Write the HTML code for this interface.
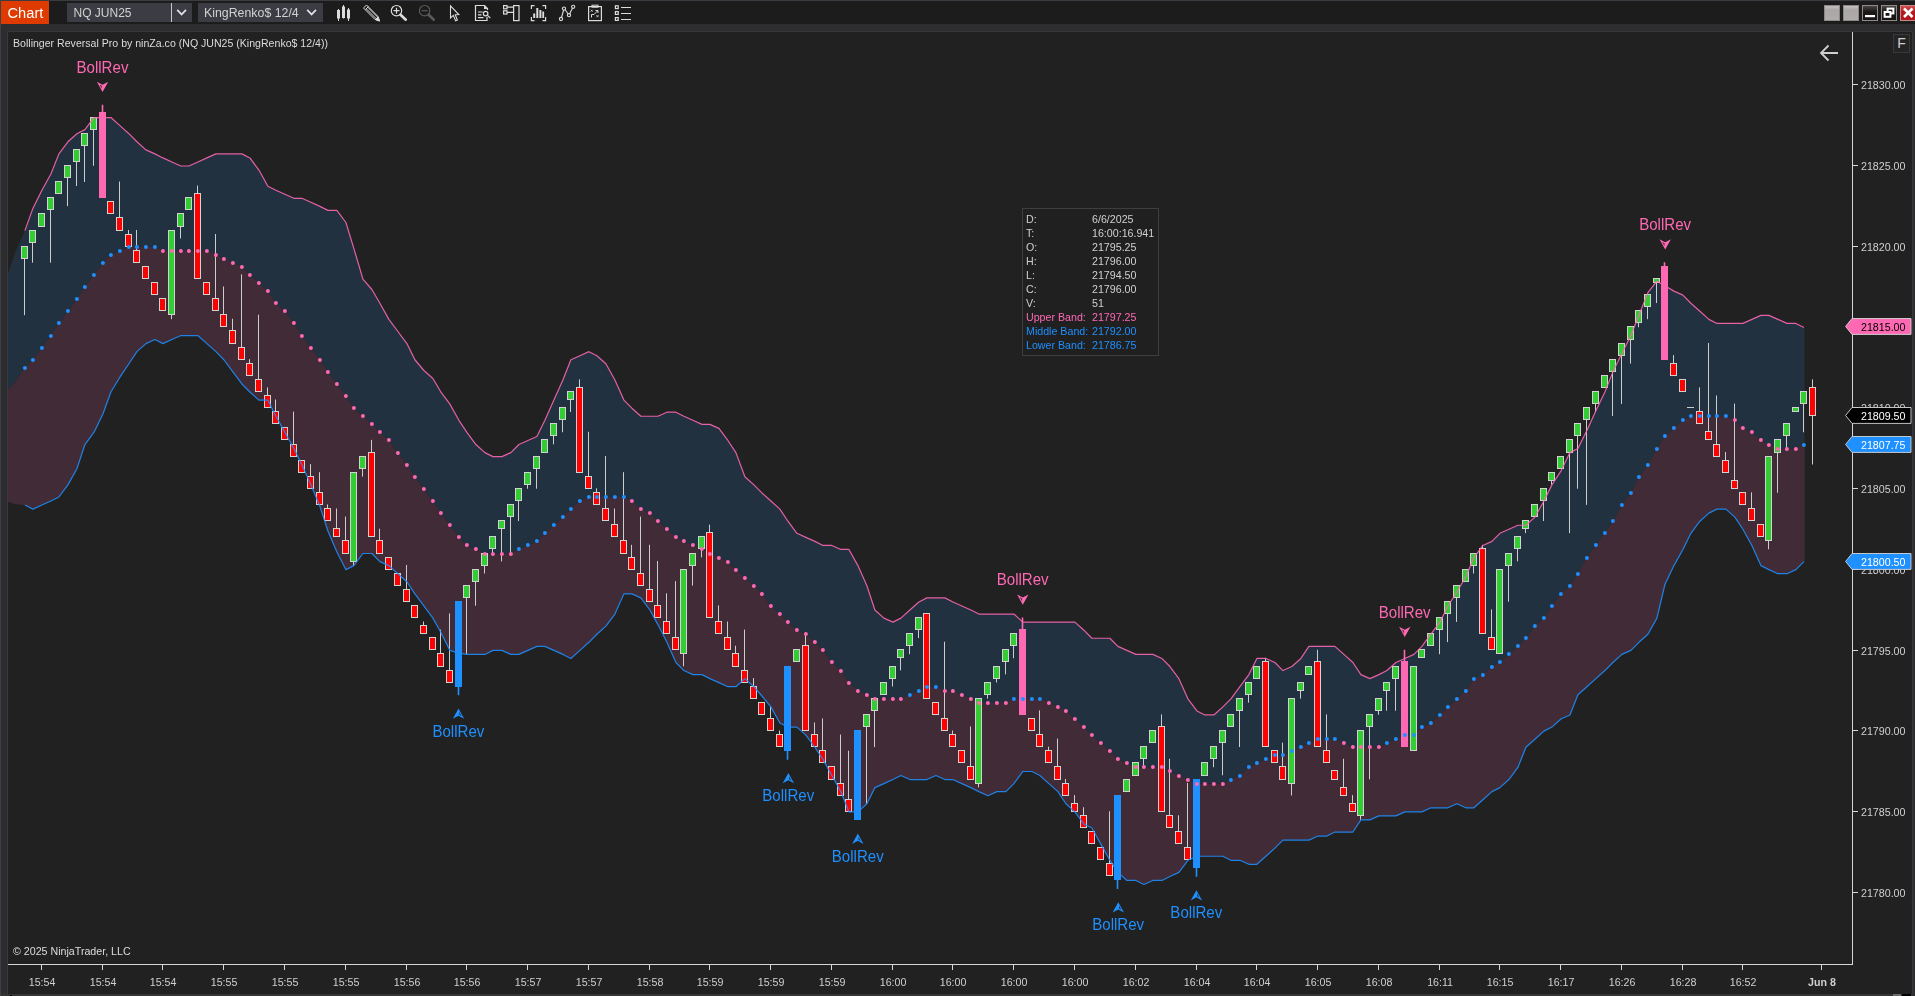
<!DOCTYPE html>
<html><head><meta charset="utf-8"><title>Chart</title>
<style>
html,body{margin:0;padding:0}
body{width:1915px;height:996px;overflow:hidden;background:#2d2d30;font-family:"Liberation Sans",sans-serif;position:relative}
#tb{position:absolute;left:0;top:0;width:1915px;height:24px;background:#1c1c1d;border-top:1px solid #3b3b41;box-sizing:border-box}
#lf{position:absolute;left:0;top:0;width:1px;height:996px;background:#3f3f46}
#tab{will-change:transform;position:absolute;left:1px;top:1px;width:48px;height:23px;background:#df3a00;color:#fff;font-size:14.67px;line-height:24px;text-indent:6.5px}
.box{will-change:transform;position:absolute;top:3px;height:19px;background:#3c3c44;color:#d2d2d2;font-size:12px;line-height:21.5px;white-space:nowrap}
#panel{position:absolute;left:8px;top:32px;width:1904px;height:961.5px;background:#212121}
#pb{position:absolute;left:7px;top:31px;width:1906px;height:963px;border:1px solid #38383c;box-sizing:border-box}
#bot{position:absolute;left:1px;top:993.5px;width:1911px;height:2.5px;background:#343434}
.wb{position:absolute;top:5px;width:16px;height:16px;box-sizing:border-box}
#fb{position:absolute;left:1893px;top:34px;width:17px;height:19px;box-sizing:border-box;border:1px solid #38383c;background:#242425;color:#d0d0d0;font-size:14px;line-height:17px;text-align:center}
</style></head><body>
<div id="tb"></div><div id="lf"></div>
<div id="tab">Chart</div>
<div class="box" style="left:67px;width:104px;text-indent:6.5px">NQ JUN25</div>
<div style="position:absolute;left:171px;top:3px;width:1px;height:19px;background:#c8c8c8"></div>
<div class="box" style="left:172px;width:20px"><svg width="20" height="19" style="position:absolute;left:0;top:0"><path d="M5.2 6.8 L9.6 11.4 L14 6.8" stroke="#e0e0e0" stroke-width="1.7" fill="none"/></svg></div>
<div class="box" style="left:198px;width:125px;text-indent:6px;font-size:12.35px">KingRenko$ 12/4<svg width="20" height="19" style="position:absolute;left:104px;top:0"><path d="M5.2 6.8 L9.6 11.4 L14 6.8" stroke="#e0e0e0" stroke-width="1.7" fill="none"/></svg></div>
<svg width="340" height="24" viewBox="330 0 340 24" style="position:absolute;left:330px;top:0"><g fill="#dcdcdc" stroke="#dcdcdc" stroke-width="1"><path d="M338.5 9 V21 M343.5 5 V18.5 M348.5 8 V21" fill="none"/><rect x="337" y="10" width="3" height="8.5" stroke="none"/><rect x="342" y="6.5" width="3" height="11.5" stroke="none"/><rect x="347" y="9.5" width="3" height="9" stroke="none"/></g><g stroke="#dcdcdc" fill="none" stroke-width="1"><path d="M364 7.5 L366.5 5 L378 16.5 L379.5 21 L375 19.5 L363.5 8 Z M365.5 9.5 L368.5 6.5 M366.5 9 L376.5 19 M368 7.5 L378 17.5" /><path d="M375.5 19.5 L379.5 21 L378 17 Z" fill="#dcdcdc"/></g><g stroke="#dcdcdc" fill="none"><circle cx="396.5" cy="10.7" r="5.2" stroke-width="1.2"/><path d="M393.5 10.7 H399.5 M396.5 7.7 V13.7" stroke-width="1.2"/><path d="M400.5 14.7 L405.8 19.7" stroke-width="2.6" stroke-linecap="round"/></g><g stroke="#5a5a5a" fill="none"><circle cx="424.6" cy="10.7" r="5.2" stroke-width="1.2"/><path d="M421.6 10.7 H427.6" stroke-width="1.2"/><path d="M428.6 14.7 L433.8 19.7" stroke-width="2.6" stroke-linecap="round"/></g><path d="M450.5 5.8 L450.5 18 L453.3 15.4 L455.6 20.8 L457.4 20 L455.2 14.8 L458.8 14.6 Z" fill="none" stroke="#dcdcdc" stroke-width="1.1" stroke-linejoin="miter"/><g stroke="#dcdcdc" fill="none" stroke-width="1.2"><path d="M487 17 V20.5 H475.5 V5.5 H484.5 L487.5 8.5 V10"/><path d="M484 5.5 V9 H487.5" fill="#dcdcdc" stroke="none"/><path d="M478 12 H482.5 M478 14.8 H481.5 M478 17.6 H483.5"/><circle cx="485.6" cy="13.6" r="2.3"/><path d="M487.4 15.4 L490.3 18"/></g><g stroke="#dcdcdc" fill="none" stroke-width="1.2"><rect x="503.6" y="5.6" width="3.4" height="3.2"/><rect x="503.6" y="10.8" width="3.4" height="3.2"/><path d="M507 7.2 H513.5 M507 12.4 H513.5"/><rect x="513.6" y="5.6" width="5.4" height="15"/></g><g stroke="#dcdcdc" fill="none" stroke-width="1.2"><path d="M534.5 5.6 H531.4 V9 M531.4 17 V20.6 H534.5 M542.5 5.6 H545.6 V9 M545.6 17 V20.6 H542.5"/></g><g fill="#dcdcdc"><rect x="533.2" y="13.5" width="2" height="4.5"/><rect x="536.3" y="8" width="2" height="10"/><rect x="539.4" y="10" width="2" height="8"/><rect x="542.3" y="11.5" width="1.8" height="6.5"/></g><g stroke="#dcdcdc" fill="none" stroke-width="1.1"><path d="M561.5 17.5 L563.6 10 M565 9.5 L568.2 14 M569.6 14 L572.5 8"/><circle cx="561" cy="19" r="1.6"/><circle cx="564" cy="8.6" r="1.6"/><circle cx="569" cy="15.2" r="1.6"/><circle cx="573.2" cy="6.8" r="1.6"/></g><g stroke="#dcdcdc" fill="none" stroke-width="1.2"><rect x="588.6" y="6.6" width="12.8" height="14"/><rect x="592" y="5.2" width="6" height="2" stroke-width="1"/><path d="M591.5 17.5 V14.5 H594 L597.5 11 M595.5 10.5 H598 V13" stroke-width="1"/><path d="M590.8 9.8 L592.6 11.6 M592.6 9.8 L590.8 11.6 M596.5 15.2 L598.5 17.2 M598.5 15.2 L596.5 17.2" stroke-width=".9"/></g><g stroke="#dcdcdc" fill="none" stroke-width="1.2"><rect x="615.4" y="5.8" width="2.8" height="2.8"/><rect x="615.4" y="11.6" width="2.8" height="2.8"/><rect x="615.4" y="17.6" width="2.8" height="2.8"/><path d="M621 7.5 H631 M621 13.5 H631 M621 19.5 H631" stroke-width="1"/></g></svg>
<div class="wb" style="left:1824px;background:linear-gradient(#c4c0c0,#aaa6a6 30%,#b0acac);border:1px solid #8c8888"></div>
<div class="wb" style="left:1843px;background:linear-gradient(#c4c0c0,#aaa6a6 30%,#b0acac);border:1px solid #8c8888"></div>
<div class="wb" style="left:1862px;background:linear-gradient(#4a4646,#1c1818 40%,#181414);border:1px solid #8e8a8a"><svg width="14" height="14" style="position:absolute;left:0;top:0"><rect x="2" y="9" width="10" height="2.2" fill="#fff"/></svg></div>
<div class="wb" style="left:1881px;background:linear-gradient(#4a4646,#1c1818 40%,#181414);border:1px solid #8e8a8a"><svg width="14" height="14" style="position:absolute;left:0;top:0"><rect x="5.6" y="2.6" width="5.8" height="4.8" fill="none" stroke="#fff" stroke-width="2"/><rect x="2.6" y="6" width="5.8" height="4.8" fill="#181414" stroke="#fff" stroke-width="2"/></svg></div>
<div class="wb" style="left:1900px;width:15px;background:linear-gradient(#d05050,#b41c22 40%,#b0181e);border:1px solid #c88;border-right:none"><svg width="14" height="14" style="position:absolute;left:0;top:0"><path d="M3 2.5 L11.5 11 M11.5 2.5 L3 11" stroke="#fff" stroke-width="2.6"/></svg></div>
<div id="pb"></div><div id="panel"></div>
<div id="bot"><div style="position:absolute;left:1892px;top:0;width:8px;height:3px;background:#6c6c6c"></div><div style="position:absolute;left:1901px;top:0;width:9px;height:3px;background:#000"></div><div style="position:absolute;left:9px;top:1px;width:2px;height:2px;background:#000"></div></div>
<div id="fb">F</div>
<svg width="1915" height="996" viewBox="0 0 1915 996" style="position:absolute;left:0;top:0;will-change:transform" font-family="Liberation Sans, sans-serif">
<defs><clipPath id="cp"><rect x="8" y="32" width="1844.5" height="932"/></clipPath></defs>
<g clip-path="url(#cp)">
<polygon points="8,274 15.34,252 24.9,230.58 32.9,208.4 41.9,190.21 50.9,174.06 58.9,153.88 67.9,141.77 76.9,133.7 84.9,129.66 93.9,117.55 102.9,117.55 110.9,117.55 119.9,125.63 128.9,133.7 136.9,141.77 145.9,149.85 154.9,153.88 162.9,157.92 171.9,161.95 180.9,165.99 188.9,165.99 197.9,161.95 206.9,157.92 215.9,153.88 223.9,153.88 232.9,153.88 241.9,153.88 249.9,157.92 258.9,170.03 267.9,186.17 275.9,190.21 284.9,194.25 293.9,198.28 301.9,198.28 310.9,202.32 319.9,206.36 327.9,210.39 336.9,210.39 345.9,222.5 353.9,248.6 362.9,279.02 371.9,289.5 379.9,303.24 388.9,319.38 397.9,331.49 406.9,343.6 414.9,359.75 423.9,370.5 432.9,378.5 440.9,392.04 449.9,404.15 458.9,420.3 466.9,432.41 475.9,444.52 484.9,452.59 492.9,456.62 501.9,456.62 510.9,452.59 518.9,444.52 527.9,440.48 536.9,436.44 544.9,420.3 553.9,400.11 562.9,379.93 570.9,359.75 579.9,355.71 588.9,351.67 596.9,355.71 605.9,363.78 614.9,379.93 623.9,400.11 631.9,408.19 640.9,416.26 649.9,416.26 657.9,416.26 666.9,412.22 675.9,412.22 683.9,416.26 692.9,420.3 701.9,424.33 709.9,424.33 718.9,428.37 727.9,440.48 735.9,452.59 744.9,476.81 753.9,484.88 761.9,492.95 770.9,501.03 779.9,509.1 787.9,521.21 796.9,533.32 805.9,537.36 814.9,541.39 822.9,545.43 831.9,545.43 840.9,549.47 848.9,549.47 857.9,565.61 866.9,585.8 874.9,610.01 883.9,618.09 892.9,622.12 900.9,618.09 909.9,610.01 918.9,601.94 926.9,597.91 935.9,597.91 944.9,597.91 952.9,601.94 961.9,605.98 970.9,610.01 978.9,614.05 987.9,614.05 996.9,614.05 1005.9,614.05 1013.9,614.05 1022.9,622.12 1031.9,622.12 1039.9,622.12 1048.9,622.12 1057.9,622.12 1065.9,622.12 1074.9,622.12 1083.9,630.2 1091.9,638.27 1100.9,638.27 1109.9,638.27 1117.9,646.34 1126.9,650.38 1135.9,654.42 1143.9,654.42 1152.9,654.42 1161.9,658.45 1169.9,666.53 1178.9,678.64 1187.9,698.82 1196.9,710.93 1204.9,714.97 1213.9,714.97 1222.9,706.89 1230.9,698.82 1239.9,686.71 1248.9,674.6 1256.9,658.45 1265.9,658.45 1274.9,662.49 1282.9,670.56 1291.9,666.53 1300.9,658.45 1308.9,646.34 1317.9,646.34 1326.9,646.34 1334.9,646.34 1343.9,654.42 1352.9,662.49 1360.9,674.6 1369.9,678.64 1378.9,674.6 1386.9,670.56 1395.9,662.49 1404.9,658.45 1413.9,654.42 1421.9,646.34 1430.9,634.23 1439.9,622.12 1447.9,605.98 1456.9,592 1465.9,576.5 1473.9,557.54 1482.9,545.43 1491.9,541.39 1499.9,533.32 1508.9,529.28 1517.9,525.25 1525.9,525.25 1534.9,517.17 1543.9,501.03 1551.9,484.88 1560.9,471.2 1569.9,452.59 1577.9,448.55 1586.9,430.5 1595.9,410.7 1604.9,392.04 1612.9,371.86 1621.9,353.5 1630.9,335.53 1638.9,315.34 1647.9,292.6 1656.9,281.2 1664.9,285.8 1673.9,291.13 1682.9,295.16 1690.9,303.24 1699.9,311.31 1708.9,319.38 1716.9,323.42 1725.9,323.42 1734.9,323.42 1742.9,323.42 1751.9,319.38 1760.9,315.34 1768.9,315.34 1777.9,319.38 1786.9,323.42 1795.9,323.42 1803.9,327.45 1804.61,327.45 1804.61,444.52 1803.9,444.52 1795.9,448.55 1786.9,448.55 1777.9,448.55 1768.9,444.52 1760.9,440.48 1751.9,432.41 1742.9,428.37 1734.9,420.3 1725.9,416.26 1716.9,416.26 1708.9,416.26 1699.9,416.26 1690.9,416.26 1682.9,420.3 1673.9,428.37 1664.9,436.44 1656.9,448.55 1647.9,464.7 1638.9,476.81 1630.9,492.95 1621.9,505.06 1612.9,521.21 1604.9,533.32 1595.9,545.43 1586.9,557.54 1577.9,573.69 1569.9,585.8 1560.9,593.87 1551.9,605.98 1543.9,618.09 1534.9,626.16 1525.9,638.27 1517.9,646.34 1508.9,654.42 1499.9,662.49 1491.9,666.53 1482.9,674.6 1473.9,678.64 1465.9,690.75 1456.9,698.82 1447.9,706.89 1439.9,714.97 1430.9,723.04 1421.9,727.08 1413.9,735.15 1404.9,735.15 1395.9,739.19 1386.9,743.22 1378.9,747.26 1369.9,747.26 1360.9,747.26 1352.9,747.26 1343.9,743.22 1334.9,739.19 1326.9,739.19 1317.9,739.19 1308.9,743.22 1300.9,747.26 1291.9,751.29 1282.9,755.33 1274.9,755.33 1265.9,759.37 1256.9,763.4 1248.9,767.44 1239.9,775.51 1230.9,779.55 1222.9,783.59 1213.9,783.59 1204.9,783.59 1196.9,783.59 1187.9,779.55 1178.9,775.51 1169.9,771.48 1161.9,767.44 1152.9,767.44 1143.9,767.44 1135.9,767.44 1126.9,763.4 1117.9,759.37 1109.9,751.29 1100.9,743.22 1091.9,735.15 1083.9,727.08 1074.9,719 1065.9,710.93 1057.9,706.89 1048.9,702.86 1039.9,698.82 1031.9,698.82 1022.9,698.82 1013.9,698.82 1005.9,702.86 996.9,702.86 987.9,702.86 978.9,702.86 970.9,698.82 961.9,694.78 952.9,690.75 944.9,690.75 935.9,686.71 926.9,686.71 918.9,690.75 909.9,694.78 900.9,698.82 892.9,698.82 883.9,698.82 874.9,698.82 866.9,694.78 857.9,690.75 848.9,682.67 840.9,670.56 831.9,662.49 822.9,650.38 814.9,642.31 805.9,634.23 796.9,630.2 787.9,622.12 779.9,614.05 770.9,605.98 761.9,593.87 753.9,585.8 744.9,577.72 735.9,569.65 727.9,561.58 718.9,557.54 709.9,553.5 701.9,549.47 692.9,545.43 683.9,541.39 675.9,537.36 666.9,529.28 657.9,521.21 649.9,513.14 640.9,509.1 631.9,501.03 623.9,496.99 614.9,496.99 605.9,496.99 596.9,496.99 588.9,496.99 579.9,501.03 570.9,509.1 562.9,517.17 553.9,525.25 544.9,533.32 536.9,541.39 527.9,545.43 518.9,549.47 510.9,553.5 501.9,553.5 492.9,553.5 484.9,553.5 475.9,549.47 466.9,545.43 458.9,537.36 449.9,525.25 440.9,513.14 432.9,501.03 423.9,488.92 414.9,476.81 406.9,464.7 397.9,452.59 388.9,440.48 379.9,432.41 371.9,424.33 362.9,416.26 353.9,408.19 345.9,396.08 336.9,383.97 327.9,371.86 319.9,359.75 310.9,347.64 301.9,335.53 293.9,323.42 284.9,311.31 275.9,303.24 267.9,291.13 258.9,283.05 249.9,274.98 241.9,266.91 232.9,262.87 223.9,258.83 215.9,254.8 206.9,250.76 197.9,250.76 188.9,250.76 180.9,250.76 171.9,250.76 162.9,250.76 154.9,246.72 145.9,246.72 136.9,246.72 128.9,246.72 119.9,250.76 110.9,254.8 102.9,262.87 93.9,274.98 84.9,287.09 76.9,299.2 67.9,311.31 58.9,323.42 50.9,335.53 41.9,347.64 32.9,359.75 24.9,367.82 15.34,381.8 8,389.2" fill="#223140"/>
<polygon points="8,389.2 15.34,381.8 24.9,367.82 32.9,359.75 41.9,347.64 50.9,335.53 58.9,323.42 67.9,311.31 76.9,299.2 84.9,287.09 93.9,274.98 102.9,262.87 110.9,254.8 119.9,250.76 128.9,246.72 136.9,246.72 145.9,246.72 154.9,246.72 162.9,250.76 171.9,250.76 180.9,250.76 188.9,250.76 197.9,250.76 206.9,250.76 215.9,254.8 223.9,258.83 232.9,262.87 241.9,266.91 249.9,274.98 258.9,283.05 267.9,291.13 275.9,303.24 284.9,311.31 293.9,323.42 301.9,335.53 310.9,347.64 319.9,359.75 327.9,371.86 336.9,383.97 345.9,396.08 353.9,408.19 362.9,416.26 371.9,424.33 379.9,432.41 388.9,440.48 397.9,452.59 406.9,464.7 414.9,476.81 423.9,488.92 432.9,501.03 440.9,513.14 449.9,525.25 458.9,537.36 466.9,545.43 475.9,549.47 484.9,553.5 492.9,553.5 501.9,553.5 510.9,553.5 518.9,549.47 527.9,545.43 536.9,541.39 544.9,533.32 553.9,525.25 562.9,517.17 570.9,509.1 579.9,501.03 588.9,496.99 596.9,496.99 605.9,496.99 614.9,496.99 623.9,496.99 631.9,501.03 640.9,509.1 649.9,513.14 657.9,521.21 666.9,529.28 675.9,537.36 683.9,541.39 692.9,545.43 701.9,549.47 709.9,553.5 718.9,557.54 727.9,561.58 735.9,569.65 744.9,577.72 753.9,585.8 761.9,593.87 770.9,605.98 779.9,614.05 787.9,622.12 796.9,630.2 805.9,634.23 814.9,642.31 822.9,650.38 831.9,662.49 840.9,670.56 848.9,682.67 857.9,690.75 866.9,694.78 874.9,698.82 883.9,698.82 892.9,698.82 900.9,698.82 909.9,694.78 918.9,690.75 926.9,686.71 935.9,686.71 944.9,690.75 952.9,690.75 961.9,694.78 970.9,698.82 978.9,702.86 987.9,702.86 996.9,702.86 1005.9,702.86 1013.9,698.82 1022.9,698.82 1031.9,698.82 1039.9,698.82 1048.9,702.86 1057.9,706.89 1065.9,710.93 1074.9,719 1083.9,727.08 1091.9,735.15 1100.9,743.22 1109.9,751.29 1117.9,759.37 1126.9,763.4 1135.9,767.44 1143.9,767.44 1152.9,767.44 1161.9,767.44 1169.9,771.48 1178.9,775.51 1187.9,779.55 1196.9,783.59 1204.9,783.59 1213.9,783.59 1222.9,783.59 1230.9,779.55 1239.9,775.51 1248.9,767.44 1256.9,763.4 1265.9,759.37 1274.9,755.33 1282.9,755.33 1291.9,751.29 1300.9,747.26 1308.9,743.22 1317.9,739.19 1326.9,739.19 1334.9,739.19 1343.9,743.22 1352.9,747.26 1360.9,747.26 1369.9,747.26 1378.9,747.26 1386.9,743.22 1395.9,739.19 1404.9,735.15 1413.9,735.15 1421.9,727.08 1430.9,723.04 1439.9,714.97 1447.9,706.89 1456.9,698.82 1465.9,690.75 1473.9,678.64 1482.9,674.6 1491.9,666.53 1499.9,662.49 1508.9,654.42 1517.9,646.34 1525.9,638.27 1534.9,626.16 1543.9,618.09 1551.9,605.98 1560.9,593.87 1569.9,585.8 1577.9,573.69 1586.9,557.54 1595.9,545.43 1604.9,533.32 1612.9,521.21 1621.9,505.06 1630.9,492.95 1638.9,476.81 1647.9,464.7 1656.9,448.55 1664.9,436.44 1673.9,428.37 1682.9,420.3 1690.9,416.26 1699.9,416.26 1708.9,416.26 1716.9,416.26 1725.9,416.26 1734.9,420.3 1742.9,428.37 1751.9,432.41 1760.9,440.48 1768.9,444.52 1777.9,448.55 1786.9,448.55 1795.9,448.55 1803.9,444.52 1804.61,444.52 1804.61,561.58 1803.9,561.58 1795.9,569.65 1786.9,573.69 1777.9,573.69 1768.9,569.65 1760.9,565.61 1751.9,545.43 1742.9,529.28 1734.9,517.17 1725.9,509.1 1716.9,509.1 1708.9,513.14 1699.9,521.21 1690.9,533.32 1682.9,549.47 1673.9,565.61 1664.9,584.5 1656.9,618.09 1647.9,634.23 1638.9,642.31 1630.9,650.38 1621.9,654.42 1612.9,662.49 1604.9,670.56 1595.9,678.64 1586.9,686.71 1577.9,694.78 1569.9,714.97 1560.9,719 1551.9,727.08 1543.9,731.11 1534.9,739.19 1525.9,747.26 1517.9,767.44 1508.9,779.55 1499.9,787.62 1491.9,791.66 1482.9,799.73 1473.9,807.81 1465.9,807.81 1456.9,803.77 1447.9,807.81 1439.9,807.81 1430.9,807.81 1421.9,811.84 1413.9,811.84 1404.9,811.84 1395.9,815.88 1386.9,815.88 1378.9,815.88 1369.9,819.92 1360.9,819.92 1352.9,832.03 1343.9,832.03 1334.9,832.03 1326.9,836.06 1317.9,836.06 1308.9,840.1 1300.9,840.1 1291.9,840.1 1282.9,840.1 1274.9,848.17 1265.9,856.25 1256.9,864.32 1248.9,864.32 1239.9,860.28 1230.9,860.28 1222.9,856.25 1213.9,856.25 1204.9,856.25 1196.9,856.25 1187.9,860.28 1178.9,872.39 1169.9,876.43 1161.9,880.47 1152.9,880.47 1143.9,884.5 1135.9,880.47 1126.9,880.47 1117.9,872.39 1109.9,860.28 1100.9,844.14 1091.9,827.99 1083.9,823.95 1074.9,811.84 1065.9,803.77 1057.9,791.66 1048.9,783.59 1039.9,775.51 1031.9,771.48 1022.9,771.48 1013.9,783.59 1005.9,791.66 996.9,791.66 987.9,795.7 978.9,791.66 970.9,787.62 961.9,783.59 952.9,779.55 944.9,779.55 935.9,775.51 926.9,779.55 918.9,779.55 909.9,779.55 900.9,775.51 892.9,779.55 883.9,783.59 874.9,787.62 866.9,803.77 857.9,811.84 848.9,811.84 840.9,791.66 831.9,775.51 822.9,759.37 814.9,747.26 805.9,735.15 796.9,727.08 787.9,727.08 779.9,723.04 770.9,706.89 761.9,696 753.9,686.71 744.9,678.64 735.9,686.71 727.9,686.71 718.9,682.67 709.9,678.64 701.9,674.6 692.9,674.6 683.9,670.56 675.9,662.49 666.9,642.31 657.9,624.6 649.9,610.01 640.9,597.91 631.9,593.87 623.9,593.87 614.9,614.05 605.9,626.16 596.9,634.23 588.9,642.31 579.9,650.38 570.9,658.45 562.9,654.42 553.9,650.38 544.9,646.34 536.9,646.34 527.9,650.38 518.9,654.42 510.9,654.42 501.9,650.38 492.9,650.38 484.9,654.42 475.9,654.42 466.9,654.42 458.9,653.2 449.9,650.38 440.9,632.5 432.9,618.09 423.9,605.98 414.9,593.87 406.9,581.76 397.9,573.69 388.9,565.61 379.9,561.58 371.9,553.5 362.9,553.5 353.9,565.61 345.9,569.65 336.9,552 327.9,531 319.9,506.3 310.9,484.88 301.9,464.7 293.9,448.55 284.9,432.41 275.9,416.26 267.9,400.11 258.9,400.11 249.9,392.04 241.9,383.97 232.9,371.86 223.9,359.75 215.9,351.67 206.9,343.6 197.9,335.53 188.9,335.53 180.9,335.53 171.9,339.56 162.9,343.6 154.9,339.56 145.9,343.6 136.9,351.67 128.9,363.78 119.9,377.2 110.9,392.04 102.9,414 93.9,432.41 84.9,444.52 76.9,468.73 67.9,484.88 58.9,496.99 50.9,501.03 41.9,505.06 32.9,509.1 24.9,505.06 15.34,504.3 8,501.7" fill="#412b37"/>
<g><path d="M24.5 259 V315.14" stroke="#cdcdcd" stroke-width="1"/><rect x="21.5" y="246.5" width="6" height="12" fill="#32cd32" stroke="#d2d2d2" stroke-width="1"/><path d="M32.5 243 V262.67" stroke="#cdcdcd" stroke-width="1"/><rect x="29.5" y="230.5" width="6" height="12" fill="#32cd32" stroke="#d2d2d2" stroke-width="1"/><rect x="38.5" y="213.5" width="6" height="13" fill="#32cd32" stroke="#d2d2d2" stroke-width="1"/><path d="M50.5 210 V262.67" stroke="#cdcdcd" stroke-width="1"/><rect x="47.5" y="197.5" width="6" height="12" fill="#32cd32" stroke="#d2d2d2" stroke-width="1"/><rect x="55.5" y="181.5" width="6" height="12" fill="#32cd32" stroke="#d2d2d2" stroke-width="1"/><path d="M67.5 178 V206.16" stroke="#cdcdcd" stroke-width="1"/><rect x="64.5" y="165.5" width="6" height="12" fill="#32cd32" stroke="#d2d2d2" stroke-width="1"/><path d="M76.5 162 V185.97" stroke="#cdcdcd" stroke-width="1"/><rect x="73.5" y="149.5" width="6" height="12" fill="#32cd32" stroke="#d2d2d2" stroke-width="1"/><path d="M84.5 146 V181.94" stroke="#cdcdcd" stroke-width="1"/><rect x="81.5" y="133.5" width="6" height="12" fill="#32cd32" stroke="#d2d2d2" stroke-width="1"/><path d="M93.5 130 V165.79" stroke="#cdcdcd" stroke-width="1"/><rect x="90.5" y="117.5" width="6" height="12" fill="#32cd32" stroke="#d2d2d2" stroke-width="1"/><path d="M102.5 104.84 V112" stroke="#ff69b4" stroke-width="1.6"/><rect x="99" y="112" width="7" height="86" fill="#ff69b4"/><rect x="107.5" y="201.5" width="6" height="12" fill="#ff0000" stroke="#d2d2d2" stroke-width="1"/><path d="M119.5 181.54 V217" stroke="#cdcdcd" stroke-width="1"/><rect x="116.5" y="217.5" width="6" height="13" fill="#ff0000" stroke="#d2d2d2" stroke-width="1"/><path d="M128.5 229.98 V234" stroke="#cdcdcd" stroke-width="1"/><rect x="125.5" y="234.5" width="6" height="12" fill="#ff0000" stroke="#d2d2d2" stroke-width="1"/><path d="M136.5 229.98 V250" stroke="#cdcdcd" stroke-width="1"/><rect x="133.5" y="250.5" width="6" height="12" fill="#ff0000" stroke="#d2d2d2" stroke-width="1"/><rect x="142.5" y="266.5" width="6" height="12" fill="#ff0000" stroke="#d2d2d2" stroke-width="1"/><rect x="151.5" y="282.5" width="6" height="12" fill="#ff0000" stroke="#d2d2d2" stroke-width="1"/><rect x="159.5" y="298.5" width="6" height="12" fill="#ff0000" stroke="#d2d2d2" stroke-width="1"/><path d="M171.5 315 V319.18" stroke="#cdcdcd" stroke-width="1"/><rect x="168.5" y="230.5" width="6" height="84" fill="#32cd32" stroke="#d2d2d2" stroke-width="1"/><path d="M180.5 227 V238.45" stroke="#cdcdcd" stroke-width="1"/><rect x="177.5" y="213.5" width="6" height="13" fill="#32cd32" stroke="#d2d2d2" stroke-width="1"/><rect x="185.5" y="197.5" width="6" height="12" fill="#32cd32" stroke="#d2d2d2" stroke-width="1"/><path d="M197.5 185.57 V193" stroke="#cdcdcd" stroke-width="1"/><rect x="194.5" y="193.5" width="6" height="85" fill="#ff0000" stroke="#d2d2d2" stroke-width="1"/><rect x="203.5" y="282.5" width="6" height="12" fill="#ff0000" stroke="#d2d2d2" stroke-width="1"/><path d="M215.5 234.01 V298" stroke="#cdcdcd" stroke-width="1"/><rect x="212.5" y="298.5" width="6" height="12" fill="#ff0000" stroke="#d2d2d2" stroke-width="1"/><path d="M223.5 286.49 V314" stroke="#cdcdcd" stroke-width="1"/><rect x="220.5" y="314.5" width="6" height="12" fill="#ff0000" stroke="#d2d2d2" stroke-width="1"/><path d="M232.5 318.78 V330" stroke="#cdcdcd" stroke-width="1"/><rect x="229.5" y="330.5" width="6" height="13" fill="#ff0000" stroke="#d2d2d2" stroke-width="1"/><path d="M241.5 274.38 V347" stroke="#cdcdcd" stroke-width="1"/><rect x="238.5" y="347.5" width="6" height="12" fill="#ff0000" stroke="#d2d2d2" stroke-width="1"/><path d="M249.5 359.15 V363" stroke="#cdcdcd" stroke-width="1"/><rect x="246.5" y="363.5" width="6" height="12" fill="#ff0000" stroke="#d2d2d2" stroke-width="1"/><path d="M258.5 314.74 V379" stroke="#cdcdcd" stroke-width="1"/><rect x="255.5" y="379.5" width="6" height="12" fill="#ff0000" stroke="#d2d2d2" stroke-width="1"/><path d="M267.5 387.4 V395" stroke="#cdcdcd" stroke-width="1"/><rect x="264.5" y="395.5" width="6" height="12" fill="#ff0000" stroke="#d2d2d2" stroke-width="1"/><path d="M275.5 399.51 V411" stroke="#cdcdcd" stroke-width="1"/><rect x="272.5" y="411.5" width="6" height="12" fill="#ff0000" stroke="#d2d2d2" stroke-width="1"/><rect x="281.5" y="427.5" width="6" height="12" fill="#ff0000" stroke="#d2d2d2" stroke-width="1"/><path d="M293.5 411.62 V444" stroke="#cdcdcd" stroke-width="1"/><rect x="290.5" y="444.5" width="6" height="12" fill="#ff0000" stroke="#d2d2d2" stroke-width="1"/><rect x="298.5" y="460.5" width="6" height="12" fill="#ff0000" stroke="#d2d2d2" stroke-width="1"/><path d="M310.5 464.1 V476" stroke="#cdcdcd" stroke-width="1"/><rect x="307.5" y="476.5" width="6" height="12" fill="#ff0000" stroke="#d2d2d2" stroke-width="1"/><path d="M319.5 472.17 V492" stroke="#cdcdcd" stroke-width="1"/><rect x="316.5" y="492.5" width="6" height="12" fill="#ff0000" stroke="#d2d2d2" stroke-width="1"/><path d="M327.5 504.46 V508" stroke="#cdcdcd" stroke-width="1"/><rect x="324.5" y="508.5" width="6" height="12" fill="#ff0000" stroke="#d2d2d2" stroke-width="1"/><path d="M336.5 508.5 V528" stroke="#cdcdcd" stroke-width="1"/><rect x="333.5" y="528.5" width="6" height="8" fill="#ff0000" stroke="#d2d2d2" stroke-width="1"/><path d="M345.5 516.57 V540" stroke="#cdcdcd" stroke-width="1"/><rect x="342.5" y="540.5" width="6" height="13" fill="#ff0000" stroke="#d2d2d2" stroke-width="1"/><path d="M353.5 562 V565.41" stroke="#cdcdcd" stroke-width="1"/><rect x="350.5" y="472.5" width="6" height="89" fill="#32cd32" stroke="#d2d2d2" stroke-width="1"/><path d="M362.5 469 V476.61" stroke="#cdcdcd" stroke-width="1"/><rect x="359.5" y="456.5" width="6" height="12" fill="#32cd32" stroke="#d2d2d2" stroke-width="1"/><path d="M371.5 439.88 V452" stroke="#cdcdcd" stroke-width="1"/><rect x="368.5" y="452.5" width="6" height="84" fill="#ff0000" stroke="#d2d2d2" stroke-width="1"/><path d="M379.5 528.68 V540" stroke="#cdcdcd" stroke-width="1"/><rect x="376.5" y="540.5" width="6" height="13" fill="#ff0000" stroke="#d2d2d2" stroke-width="1"/><rect x="385.5" y="557.5" width="6" height="12" fill="#ff0000" stroke="#d2d2d2" stroke-width="1"/><rect x="394.5" y="573.5" width="6" height="12" fill="#ff0000" stroke="#d2d2d2" stroke-width="1"/><path d="M406.5 565.01 V589" stroke="#cdcdcd" stroke-width="1"/><rect x="403.5" y="589.5" width="6" height="12" fill="#ff0000" stroke="#d2d2d2" stroke-width="1"/><rect x="411.5" y="605.5" width="6" height="12" fill="#ff0000" stroke="#d2d2d2" stroke-width="1"/><path d="M423.5 621.52 V625" stroke="#cdcdcd" stroke-width="1"/><rect x="420.5" y="625.5" width="6" height="8" fill="#ff0000" stroke="#d2d2d2" stroke-width="1"/><rect x="429.5" y="637.5" width="6" height="12" fill="#ff0000" stroke="#d2d2d2" stroke-width="1"/><path d="M440.5 629.6 V653" stroke="#cdcdcd" stroke-width="1"/><rect x="437.5" y="653.5" width="6" height="13" fill="#ff0000" stroke="#d2d2d2" stroke-width="1"/><path d="M449.5 613.45 V670" stroke="#cdcdcd" stroke-width="1"/><rect x="446.5" y="670.5" width="6" height="12" fill="#ff0000" stroke="#d2d2d2" stroke-width="1"/><path d="M458.5 686 V695.18" stroke="#1e90ff" stroke-width="1.6"/><rect x="455" y="601" width="7" height="86" fill="#1e90ff"/><path d="M466.5 598 V654.22" stroke="#cdcdcd" stroke-width="1"/><rect x="463.5" y="585.5" width="6" height="12" fill="#32cd32" stroke="#d2d2d2" stroke-width="1"/><path d="M475.5 582 V605.78" stroke="#cdcdcd" stroke-width="1"/><rect x="472.5" y="569.5" width="6" height="12" fill="#32cd32" stroke="#d2d2d2" stroke-width="1"/><path d="M484.5 566 V573.49" stroke="#cdcdcd" stroke-width="1"/><rect x="481.5" y="553.5" width="6" height="12" fill="#32cd32" stroke="#d2d2d2" stroke-width="1"/><path d="M492.5 549 V553.3" stroke="#cdcdcd" stroke-width="1"/><rect x="489.5" y="536.5" width="6" height="12" fill="#32cd32" stroke="#d2d2d2" stroke-width="1"/><path d="M501.5 529 V561.38" stroke="#cdcdcd" stroke-width="1"/><rect x="498.5" y="520.5" width="6" height="8" fill="#32cd32" stroke="#d2d2d2" stroke-width="1"/><path d="M510.5 517 V553.3" stroke="#cdcdcd" stroke-width="1"/><rect x="507.5" y="504.5" width="6" height="12" fill="#32cd32" stroke="#d2d2d2" stroke-width="1"/><path d="M518.5 501 V521.01" stroke="#cdcdcd" stroke-width="1"/><rect x="515.5" y="488.5" width="6" height="12" fill="#32cd32" stroke="#d2d2d2" stroke-width="1"/><path d="M527.5 485 V488.72" stroke="#cdcdcd" stroke-width="1"/><rect x="524.5" y="472.5" width="6" height="12" fill="#32cd32" stroke="#d2d2d2" stroke-width="1"/><path d="M536.5 469 V488.72" stroke="#cdcdcd" stroke-width="1"/><rect x="533.5" y="456.5" width="6" height="12" fill="#32cd32" stroke="#d2d2d2" stroke-width="1"/><rect x="541.5" y="439.5" width="6" height="13" fill="#32cd32" stroke="#d2d2d2" stroke-width="1"/><path d="M553.5 436 V444.32" stroke="#cdcdcd" stroke-width="1"/><rect x="550.5" y="423.5" width="6" height="12" fill="#32cd32" stroke="#d2d2d2" stroke-width="1"/><path d="M562.5 420 V432.21" stroke="#cdcdcd" stroke-width="1"/><rect x="559.5" y="407.5" width="6" height="12" fill="#32cd32" stroke="#d2d2d2" stroke-width="1"/><path d="M570.5 400 V412.02" stroke="#cdcdcd" stroke-width="1"/><rect x="567.5" y="391.5" width="6" height="8" fill="#32cd32" stroke="#d2d2d2" stroke-width="1"/><path d="M579.5 379.33 V387" stroke="#cdcdcd" stroke-width="1"/><rect x="576.5" y="387.5" width="6" height="85" fill="#ff0000" stroke="#d2d2d2" stroke-width="1"/><path d="M588.5 431.81 V476" stroke="#cdcdcd" stroke-width="1"/><rect x="585.5" y="476.5" width="6" height="12" fill="#ff0000" stroke="#d2d2d2" stroke-width="1"/><path d="M596.5 488.32 V492" stroke="#cdcdcd" stroke-width="1"/><rect x="593.5" y="492.5" width="6" height="12" fill="#ff0000" stroke="#d2d2d2" stroke-width="1"/><path d="M605.5 456.02 V508" stroke="#cdcdcd" stroke-width="1"/><rect x="602.5" y="508.5" width="6" height="12" fill="#ff0000" stroke="#d2d2d2" stroke-width="1"/><path d="M614.5 508.5 V524" stroke="#cdcdcd" stroke-width="1"/><rect x="611.5" y="524.5" width="6" height="12" fill="#ff0000" stroke="#d2d2d2" stroke-width="1"/><path d="M623.5 472.17 V540" stroke="#cdcdcd" stroke-width="1"/><rect x="620.5" y="540.5" width="6" height="13" fill="#ff0000" stroke="#d2d2d2" stroke-width="1"/><path d="M631.5 544.83 V557" stroke="#cdcdcd" stroke-width="1"/><rect x="628.5" y="557.5" width="6" height="12" fill="#ff0000" stroke="#d2d2d2" stroke-width="1"/><path d="M640.5 516.57 V573" stroke="#cdcdcd" stroke-width="1"/><rect x="637.5" y="573.5" width="6" height="12" fill="#ff0000" stroke="#d2d2d2" stroke-width="1"/><path d="M649.5 544.83 V589" stroke="#cdcdcd" stroke-width="1"/><rect x="646.5" y="589.5" width="6" height="12" fill="#ff0000" stroke="#d2d2d2" stroke-width="1"/><path d="M657.5 560.98 V605" stroke="#cdcdcd" stroke-width="1"/><rect x="654.5" y="605.5" width="6" height="12" fill="#ff0000" stroke="#d2d2d2" stroke-width="1"/><path d="M666.5 593.27 V621" stroke="#cdcdcd" stroke-width="1"/><rect x="663.5" y="621.5" width="6" height="12" fill="#ff0000" stroke="#d2d2d2" stroke-width="1"/><path d="M675.5 581.16 V637" stroke="#cdcdcd" stroke-width="1"/><rect x="672.5" y="637.5" width="6" height="12" fill="#ff0000" stroke="#d2d2d2" stroke-width="1"/><path d="M683.5 654 V666.33" stroke="#cdcdcd" stroke-width="1"/><rect x="680.5" y="569.5" width="6" height="84" fill="#32cd32" stroke="#d2d2d2" stroke-width="1"/><path d="M692.5 566 V585.6" stroke="#cdcdcd" stroke-width="1"/><rect x="689.5" y="553.5" width="6" height="12" fill="#32cd32" stroke="#d2d2d2" stroke-width="1"/><path d="M701.5 549 V557.34" stroke="#cdcdcd" stroke-width="1"/><rect x="698.5" y="536.5" width="6" height="12" fill="#32cd32" stroke="#d2d2d2" stroke-width="1"/><path d="M709.5 524.65 V532" stroke="#cdcdcd" stroke-width="1"/><rect x="706.5" y="532.5" width="6" height="85" fill="#ff0000" stroke="#d2d2d2" stroke-width="1"/><path d="M718.5 605.38 V621" stroke="#cdcdcd" stroke-width="1"/><rect x="715.5" y="621.5" width="6" height="12" fill="#ff0000" stroke="#d2d2d2" stroke-width="1"/><path d="M727.5 621.52 V637" stroke="#cdcdcd" stroke-width="1"/><rect x="724.5" y="637.5" width="6" height="12" fill="#ff0000" stroke="#d2d2d2" stroke-width="1"/><path d="M735.5 645.74 V653" stroke="#cdcdcd" stroke-width="1"/><rect x="732.5" y="653.5" width="6" height="13" fill="#ff0000" stroke="#d2d2d2" stroke-width="1"/><path d="M744.5 629.6 V670" stroke="#cdcdcd" stroke-width="1"/><rect x="741.5" y="670.5" width="6" height="12" fill="#ff0000" stroke="#d2d2d2" stroke-width="1"/><path d="M753.5 678.04 V686" stroke="#cdcdcd" stroke-width="1"/><rect x="750.5" y="686.5" width="6" height="12" fill="#ff0000" stroke="#d2d2d2" stroke-width="1"/><rect x="758.5" y="702.5" width="6" height="12" fill="#ff0000" stroke="#d2d2d2" stroke-width="1"/><path d="M770.5 706.29 V718" stroke="#cdcdcd" stroke-width="1"/><rect x="767.5" y="718.5" width="6" height="12" fill="#ff0000" stroke="#d2d2d2" stroke-width="1"/><path d="M779.5 730.51 V734" stroke="#cdcdcd" stroke-width="1"/><rect x="776.5" y="734.5" width="6" height="12" fill="#ff0000" stroke="#d2d2d2" stroke-width="1"/><path d="M787.5 750 V759.77" stroke="#1e90ff" stroke-width="1.6"/><rect x="784" y="666" width="7" height="85" fill="#1e90ff"/><rect x="793.5" y="649.5" width="6" height="12" fill="#32cd32" stroke="#d2d2d2" stroke-width="1"/><path d="M805.5 633.63 V645" stroke="#cdcdcd" stroke-width="1"/><rect x="802.5" y="645.5" width="6" height="85" fill="#ff0000" stroke="#d2d2d2" stroke-width="1"/><path d="M814.5 722.44 V734" stroke="#cdcdcd" stroke-width="1"/><rect x="811.5" y="734.5" width="6" height="12" fill="#ff0000" stroke="#d2d2d2" stroke-width="1"/><path d="M822.5 718.4 V750" stroke="#cdcdcd" stroke-width="1"/><rect x="819.5" y="750.5" width="6" height="12" fill="#ff0000" stroke="#d2d2d2" stroke-width="1"/><rect x="828.5" y="766.5" width="6" height="13" fill="#ff0000" stroke="#d2d2d2" stroke-width="1"/><path d="M840.5 734.55 V783" stroke="#cdcdcd" stroke-width="1"/><rect x="837.5" y="783.5" width="6" height="12" fill="#ff0000" stroke="#d2d2d2" stroke-width="1"/><path d="M848.5 750.69 V799" stroke="#cdcdcd" stroke-width="1"/><rect x="845.5" y="799.5" width="6" height="12" fill="#ff0000" stroke="#d2d2d2" stroke-width="1"/><rect x="854" y="730" width="7" height="90" fill="#1e90ff"/><path d="M866.5 727 V803.57" stroke="#cdcdcd" stroke-width="1"/><rect x="863.5" y="714.5" width="6" height="12" fill="#32cd32" stroke="#d2d2d2" stroke-width="1"/><path d="M874.5 711 V747.06" stroke="#cdcdcd" stroke-width="1"/><rect x="871.5" y="698.5" width="6" height="12" fill="#32cd32" stroke="#d2d2d2" stroke-width="1"/><rect x="880.5" y="682.5" width="6" height="12" fill="#32cd32" stroke="#d2d2d2" stroke-width="1"/><path d="M892.5 679 V686.51" stroke="#cdcdcd" stroke-width="1"/><rect x="889.5" y="666.5" width="6" height="12" fill="#32cd32" stroke="#d2d2d2" stroke-width="1"/><path d="M900.5 658 V670.36" stroke="#cdcdcd" stroke-width="1"/><rect x="897.5" y="649.5" width="6" height="8" fill="#32cd32" stroke="#d2d2d2" stroke-width="1"/><path d="M909.5 646 V654.22" stroke="#cdcdcd" stroke-width="1"/><rect x="906.5" y="633.5" width="6" height="12" fill="#32cd32" stroke="#d2d2d2" stroke-width="1"/><path d="M918.5 630 V638.07" stroke="#cdcdcd" stroke-width="1"/><rect x="915.5" y="617.5" width="6" height="12" fill="#32cd32" stroke="#d2d2d2" stroke-width="1"/><rect x="923.5" y="613.5" width="6" height="85" fill="#ff0000" stroke="#d2d2d2" stroke-width="1"/><rect x="932.5" y="702.5" width="6" height="12" fill="#ff0000" stroke="#d2d2d2" stroke-width="1"/><path d="M944.5 641.71 V718" stroke="#cdcdcd" stroke-width="1"/><rect x="941.5" y="718.5" width="6" height="12" fill="#ff0000" stroke="#d2d2d2" stroke-width="1"/><path d="M952.5 730.51 V734" stroke="#cdcdcd" stroke-width="1"/><rect x="949.5" y="734.5" width="6" height="12" fill="#ff0000" stroke="#d2d2d2" stroke-width="1"/><rect x="958.5" y="750.5" width="6" height="12" fill="#ff0000" stroke="#d2d2d2" stroke-width="1"/><path d="M970.5 726.48 V766" stroke="#cdcdcd" stroke-width="1"/><rect x="967.5" y="766.5" width="6" height="13" fill="#ff0000" stroke="#d2d2d2" stroke-width="1"/><path d="M978.5 784 V787.42" stroke="#cdcdcd" stroke-width="1"/><rect x="975.5" y="698.5" width="6" height="85" fill="#32cd32" stroke="#d2d2d2" stroke-width="1"/><path d="M987.5 695 V698.62" stroke="#cdcdcd" stroke-width="1"/><rect x="984.5" y="682.5" width="6" height="12" fill="#32cd32" stroke="#d2d2d2" stroke-width="1"/><path d="M996.5 679 V682.47" stroke="#cdcdcd" stroke-width="1"/><rect x="993.5" y="666.5" width="6" height="12" fill="#32cd32" stroke="#d2d2d2" stroke-width="1"/><path d="M1005.5 662 V674.4" stroke="#cdcdcd" stroke-width="1"/><rect x="1002.5" y="649.5" width="6" height="12" fill="#32cd32" stroke="#d2d2d2" stroke-width="1"/><path d="M1013.5 646 V658.25" stroke="#cdcdcd" stroke-width="1"/><rect x="1010.5" y="633.5" width="6" height="12" fill="#32cd32" stroke="#d2d2d2" stroke-width="1"/><path d="M1022.5 617.49 V629" stroke="#ff69b4" stroke-width="1.6"/><rect x="1019" y="629" width="7" height="86" fill="#ff69b4"/><rect x="1028.5" y="718.5" width="6" height="12" fill="#ff0000" stroke="#d2d2d2" stroke-width="1"/><path d="M1039.5 710.33 V734" stroke="#cdcdcd" stroke-width="1"/><rect x="1036.5" y="734.5" width="6" height="12" fill="#ff0000" stroke="#d2d2d2" stroke-width="1"/><path d="M1048.5 746.66 V750" stroke="#cdcdcd" stroke-width="1"/><rect x="1045.5" y="750.5" width="6" height="12" fill="#ff0000" stroke="#d2d2d2" stroke-width="1"/><path d="M1057.5 738.59 V766" stroke="#cdcdcd" stroke-width="1"/><rect x="1054.5" y="766.5" width="6" height="13" fill="#ff0000" stroke="#d2d2d2" stroke-width="1"/><path d="M1065.5 778.95 V783" stroke="#cdcdcd" stroke-width="1"/><rect x="1062.5" y="783.5" width="6" height="12" fill="#ff0000" stroke="#d2d2d2" stroke-width="1"/><path d="M1074.5 795.1 V803" stroke="#cdcdcd" stroke-width="1"/><rect x="1071.5" y="803.5" width="6" height="8" fill="#ff0000" stroke="#d2d2d2" stroke-width="1"/><path d="M1083.5 807.21 V815" stroke="#cdcdcd" stroke-width="1"/><rect x="1080.5" y="815.5" width="6" height="12" fill="#ff0000" stroke="#d2d2d2" stroke-width="1"/><rect x="1088.5" y="831.5" width="6" height="12" fill="#ff0000" stroke="#d2d2d2" stroke-width="1"/><rect x="1097.5" y="847.5" width="6" height="12" fill="#ff0000" stroke="#d2d2d2" stroke-width="1"/><path d="M1109.5 811.24 V863" stroke="#cdcdcd" stroke-width="1"/><rect x="1106.5" y="863.5" width="6" height="12" fill="#ff0000" stroke="#d2d2d2" stroke-width="1"/><path d="M1117.5 879 V888.94" stroke="#1e90ff" stroke-width="1.6"/><rect x="1114" y="795" width="7" height="85" fill="#1e90ff"/><rect x="1123.5" y="779.5" width="6" height="12" fill="#32cd32" stroke="#d2d2d2" stroke-width="1"/><rect x="1132.5" y="762.5" width="6" height="13" fill="#32cd32" stroke="#d2d2d2" stroke-width="1"/><path d="M1143.5 759 V767.24" stroke="#cdcdcd" stroke-width="1"/><rect x="1140.5" y="746.5" width="6" height="12" fill="#32cd32" stroke="#d2d2d2" stroke-width="1"/><rect x="1149.5" y="730.5" width="6" height="12" fill="#32cd32" stroke="#d2d2d2" stroke-width="1"/><path d="M1161.5 714.37 V726" stroke="#cdcdcd" stroke-width="1"/><rect x="1158.5" y="726.5" width="6" height="85" fill="#ff0000" stroke="#d2d2d2" stroke-width="1"/><path d="M1169.5 758.77 V815" stroke="#cdcdcd" stroke-width="1"/><rect x="1166.5" y="815.5" width="6" height="12" fill="#ff0000" stroke="#d2d2d2" stroke-width="1"/><path d="M1178.5 815.28 V831" stroke="#cdcdcd" stroke-width="1"/><rect x="1175.5" y="831.5" width="6" height="12" fill="#ff0000" stroke="#d2d2d2" stroke-width="1"/><path d="M1187.5 782.99 V847" stroke="#cdcdcd" stroke-width="1"/><rect x="1184.5" y="847.5" width="6" height="12" fill="#ff0000" stroke="#d2d2d2" stroke-width="1"/><path d="M1196.5 867 V876.83" stroke="#1e90ff" stroke-width="1.6"/><rect x="1193" y="779" width="7" height="89" fill="#1e90ff"/><rect x="1201.5" y="762.5" width="6" height="13" fill="#32cd32" stroke="#d2d2d2" stroke-width="1"/><path d="M1213.5 759 V767.24" stroke="#cdcdcd" stroke-width="1"/><rect x="1210.5" y="746.5" width="6" height="12" fill="#32cd32" stroke="#d2d2d2" stroke-width="1"/><path d="M1222.5 743 V775.31" stroke="#cdcdcd" stroke-width="1"/><rect x="1219.5" y="730.5" width="6" height="12" fill="#32cd32" stroke="#d2d2d2" stroke-width="1"/><rect x="1227.5" y="714.5" width="6" height="12" fill="#32cd32" stroke="#d2d2d2" stroke-width="1"/><path d="M1239.5 711 V747.06" stroke="#cdcdcd" stroke-width="1"/><rect x="1236.5" y="698.5" width="6" height="12" fill="#32cd32" stroke="#d2d2d2" stroke-width="1"/><path d="M1248.5 695 V702.66" stroke="#cdcdcd" stroke-width="1"/><rect x="1245.5" y="682.5" width="6" height="12" fill="#32cd32" stroke="#d2d2d2" stroke-width="1"/><rect x="1253.5" y="666.5" width="6" height="12" fill="#32cd32" stroke="#d2d2d2" stroke-width="1"/><path d="M1265.5 657.85 V661" stroke="#cdcdcd" stroke-width="1"/><rect x="1262.5" y="661.5" width="6" height="85" fill="#ff0000" stroke="#d2d2d2" stroke-width="1"/><rect x="1271.5" y="750.5" width="6" height="12" fill="#ff0000" stroke="#d2d2d2" stroke-width="1"/><path d="M1282.5 742.62 V766" stroke="#cdcdcd" stroke-width="1"/><rect x="1279.5" y="766.5" width="6" height="13" fill="#ff0000" stroke="#d2d2d2" stroke-width="1"/><path d="M1291.5 784 V795.5" stroke="#cdcdcd" stroke-width="1"/><rect x="1288.5" y="698.5" width="6" height="85" fill="#32cd32" stroke="#d2d2d2" stroke-width="1"/><path d="M1300.5 691 V698.62" stroke="#cdcdcd" stroke-width="1"/><rect x="1297.5" y="682.5" width="6" height="8" fill="#32cd32" stroke="#d2d2d2" stroke-width="1"/><rect x="1305.5" y="666.5" width="6" height="8" fill="#32cd32" stroke="#d2d2d2" stroke-width="1"/><path d="M1317.5 649.78 V661" stroke="#cdcdcd" stroke-width="1"/><rect x="1314.5" y="661.5" width="6" height="85" fill="#ff0000" stroke="#d2d2d2" stroke-width="1"/><path d="M1326.5 714.37 V750" stroke="#cdcdcd" stroke-width="1"/><rect x="1323.5" y="750.5" width="6" height="12" fill="#ff0000" stroke="#d2d2d2" stroke-width="1"/><rect x="1331.5" y="770.5" width="6" height="9" fill="#ff0000" stroke="#d2d2d2" stroke-width="1"/><path d="M1343.5 758.77 V787" stroke="#cdcdcd" stroke-width="1"/><rect x="1340.5" y="787.5" width="6" height="8" fill="#ff0000" stroke="#d2d2d2" stroke-width="1"/><path d="M1352.5 795.1 V803" stroke="#cdcdcd" stroke-width="1"/><rect x="1349.5" y="803.5" width="6" height="8" fill="#ff0000" stroke="#d2d2d2" stroke-width="1"/><path d="M1360.5 816 V819.72" stroke="#cdcdcd" stroke-width="1"/><rect x="1357.5" y="730.5" width="6" height="85" fill="#32cd32" stroke="#d2d2d2" stroke-width="1"/><path d="M1369.5 727 V779.35" stroke="#cdcdcd" stroke-width="1"/><rect x="1366.5" y="714.5" width="6" height="12" fill="#32cd32" stroke="#d2d2d2" stroke-width="1"/><path d="M1378.5 711 V714.77" stroke="#cdcdcd" stroke-width="1"/><rect x="1375.5" y="698.5" width="6" height="12" fill="#32cd32" stroke="#d2d2d2" stroke-width="1"/><path d="M1386.5 691 V710.73" stroke="#cdcdcd" stroke-width="1"/><rect x="1383.5" y="682.5" width="6" height="8" fill="#32cd32" stroke="#d2d2d2" stroke-width="1"/><path d="M1395.5 679 V710.73" stroke="#cdcdcd" stroke-width="1"/><rect x="1392.5" y="666.5" width="6" height="12" fill="#32cd32" stroke="#d2d2d2" stroke-width="1"/><path d="M1404.5 649.78 V661" stroke="#ff69b4" stroke-width="1.6"/><rect x="1401" y="661" width="7" height="86" fill="#ff69b4"/><rect x="1410.5" y="666.5" width="6" height="84" fill="#32cd32" stroke="#d2d2d2" stroke-width="1"/><rect x="1418.5" y="649.5" width="6" height="8" fill="#32cd32" stroke="#d2d2d2" stroke-width="1"/><rect x="1427.5" y="633.5" width="6" height="12" fill="#32cd32" stroke="#d2d2d2" stroke-width="1"/><path d="M1439.5 630 V654.22" stroke="#cdcdcd" stroke-width="1"/><rect x="1436.5" y="617.5" width="6" height="12" fill="#32cd32" stroke="#d2d2d2" stroke-width="1"/><path d="M1447.5 614 V642.11" stroke="#cdcdcd" stroke-width="1"/><rect x="1444.5" y="601.5" width="6" height="12" fill="#32cd32" stroke="#d2d2d2" stroke-width="1"/><path d="M1456.5 598 V621.92" stroke="#cdcdcd" stroke-width="1"/><rect x="1453.5" y="585.5" width="6" height="12" fill="#32cd32" stroke="#d2d2d2" stroke-width="1"/><rect x="1462.5" y="569.5" width="6" height="12" fill="#32cd32" stroke="#d2d2d2" stroke-width="1"/><path d="M1473.5 566 V573.49" stroke="#cdcdcd" stroke-width="1"/><rect x="1470.5" y="553.5" width="6" height="12" fill="#32cd32" stroke="#d2d2d2" stroke-width="1"/><path d="M1482.5 544.83 V548" stroke="#cdcdcd" stroke-width="1"/><rect x="1479.5" y="548.5" width="6" height="85" fill="#ff0000" stroke="#d2d2d2" stroke-width="1"/><path d="M1491.5 609.41 V637" stroke="#cdcdcd" stroke-width="1"/><rect x="1488.5" y="637.5" width="6" height="12" fill="#ff0000" stroke="#d2d2d2" stroke-width="1"/><rect x="1496.5" y="569.5" width="6" height="84" fill="#32cd32" stroke="#d2d2d2" stroke-width="1"/><path d="M1508.5 566 V601.74" stroke="#cdcdcd" stroke-width="1"/><rect x="1505.5" y="553.5" width="6" height="12" fill="#32cd32" stroke="#d2d2d2" stroke-width="1"/><path d="M1517.5 549 V561.38" stroke="#cdcdcd" stroke-width="1"/><rect x="1514.5" y="536.5" width="6" height="12" fill="#32cd32" stroke="#d2d2d2" stroke-width="1"/><path d="M1525.5 529 V533.12" stroke="#cdcdcd" stroke-width="1"/><rect x="1522.5" y="520.5" width="6" height="8" fill="#32cd32" stroke="#d2d2d2" stroke-width="1"/><rect x="1531.5" y="504.5" width="6" height="12" fill="#32cd32" stroke="#d2d2d2" stroke-width="1"/><path d="M1543.5 501 V521.01" stroke="#cdcdcd" stroke-width="1"/><rect x="1540.5" y="488.5" width="6" height="12" fill="#32cd32" stroke="#d2d2d2" stroke-width="1"/><path d="M1551.5 481 V484.68" stroke="#cdcdcd" stroke-width="1"/><rect x="1548.5" y="472.5" width="6" height="8" fill="#32cd32" stroke="#d2d2d2" stroke-width="1"/><rect x="1557.5" y="456.5" width="6" height="12" fill="#32cd32" stroke="#d2d2d2" stroke-width="1"/><path d="M1569.5 453 V533.12" stroke="#cdcdcd" stroke-width="1"/><rect x="1566.5" y="439.5" width="6" height="13" fill="#32cd32" stroke="#d2d2d2" stroke-width="1"/><path d="M1577.5 436 V488.72" stroke="#cdcdcd" stroke-width="1"/><rect x="1574.5" y="423.5" width="6" height="12" fill="#32cd32" stroke="#d2d2d2" stroke-width="1"/><path d="M1586.5 420 V504.86" stroke="#cdcdcd" stroke-width="1"/><rect x="1583.5" y="407.5" width="6" height="12" fill="#32cd32" stroke="#d2d2d2" stroke-width="1"/><path d="M1595.5 404 V412.02" stroke="#cdcdcd" stroke-width="1"/><rect x="1592.5" y="391.5" width="6" height="12" fill="#32cd32" stroke="#d2d2d2" stroke-width="1"/><rect x="1601.5" y="375.5" width="6" height="12" fill="#32cd32" stroke="#d2d2d2" stroke-width="1"/><path d="M1612.5 372 V416.06" stroke="#cdcdcd" stroke-width="1"/><rect x="1609.5" y="359.5" width="6" height="12" fill="#32cd32" stroke="#d2d2d2" stroke-width="1"/><path d="M1621.5 356 V403.95" stroke="#cdcdcd" stroke-width="1"/><rect x="1618.5" y="343.5" width="6" height="12" fill="#32cd32" stroke="#d2d2d2" stroke-width="1"/><path d="M1630.5 340 V363.58" stroke="#cdcdcd" stroke-width="1"/><rect x="1627.5" y="326.5" width="6" height="13" fill="#32cd32" stroke="#d2d2d2" stroke-width="1"/><path d="M1638.5 323 V327.25" stroke="#cdcdcd" stroke-width="1"/><rect x="1635.5" y="310.5" width="6" height="12" fill="#32cd32" stroke="#d2d2d2" stroke-width="1"/><path d="M1647.5 307 V319.18" stroke="#cdcdcd" stroke-width="1"/><rect x="1644.5" y="294.5" width="6" height="12" fill="#32cd32" stroke="#d2d2d2" stroke-width="1"/><path d="M1656.5 283 V303.04" stroke="#cdcdcd" stroke-width="1"/><rect x="1653.5" y="278.5" width="6" height="4" fill="#32cd32" stroke="#d2d2d2" stroke-width="1"/><path d="M1664.5 262.27 V266" stroke="#ff69b4" stroke-width="1.6"/><rect x="1661" y="266" width="7" height="94" fill="#ff69b4"/><path d="M1673.5 355.11 V363" stroke="#cdcdcd" stroke-width="1"/><rect x="1670.5" y="363.5" width="6" height="12" fill="#ff0000" stroke="#d2d2d2" stroke-width="1"/><rect x="1679.5" y="379.5" width="6" height="12" fill="#ff0000" stroke="#d2d2d2" stroke-width="1"/><path d="M1687 407.5 H1694" stroke="#cdcdcd" stroke-width="1"/><path d="M1699.5 387.4 V411" stroke="#cdcdcd" stroke-width="1"/><rect x="1696.5" y="411.5" width="6" height="12" fill="#ff0000" stroke="#d2d2d2" stroke-width="1"/><path d="M1708.5 343 V431" stroke="#cdcdcd" stroke-width="1"/><rect x="1705.5" y="431.5" width="6" height="8" fill="#ff0000" stroke="#d2d2d2" stroke-width="1"/><path d="M1716.5 395.48 V444" stroke="#cdcdcd" stroke-width="1"/><rect x="1713.5" y="444.5" width="6" height="12" fill="#ff0000" stroke="#d2d2d2" stroke-width="1"/><path d="M1725.5 451.99 V460" stroke="#cdcdcd" stroke-width="1"/><rect x="1722.5" y="460.5" width="6" height="12" fill="#ff0000" stroke="#d2d2d2" stroke-width="1"/><path d="M1734.5 403.55 V480" stroke="#cdcdcd" stroke-width="1"/><rect x="1731.5" y="480.5" width="6" height="8" fill="#ff0000" stroke="#d2d2d2" stroke-width="1"/><rect x="1739.5" y="492.5" width="6" height="12" fill="#ff0000" stroke="#d2d2d2" stroke-width="1"/><path d="M1751.5 492.35 V508" stroke="#cdcdcd" stroke-width="1"/><rect x="1748.5" y="508.5" width="6" height="12" fill="#ff0000" stroke="#d2d2d2" stroke-width="1"/><rect x="1757.5" y="524.5" width="6" height="12" fill="#ff0000" stroke="#d2d2d2" stroke-width="1"/><path d="M1768.5 541 V549.27" stroke="#cdcdcd" stroke-width="1"/><rect x="1765.5" y="456.5" width="6" height="84" fill="#32cd32" stroke="#d2d2d2" stroke-width="1"/><path d="M1777.5 453 V492.75" stroke="#cdcdcd" stroke-width="1"/><rect x="1774.5" y="439.5" width="6" height="13" fill="#32cd32" stroke="#d2d2d2" stroke-width="1"/><path d="M1786.5 436 V448.35" stroke="#cdcdcd" stroke-width="1"/><rect x="1783.5" y="423.5" width="6" height="12" fill="#32cd32" stroke="#d2d2d2" stroke-width="1"/><rect x="1792.5" y="407.5" width="6" height="4" fill="#32cd32" stroke="#d2d2d2" stroke-width="1"/><path d="M1803.5 404 V432.21" stroke="#cdcdcd" stroke-width="1"/><rect x="1800.5" y="391.5" width="6" height="12" fill="#32cd32" stroke="#d2d2d2" stroke-width="1"/><path d="M1812.5 379.33 V387" stroke="#cdcdcd" stroke-width="1"/><path d="M1812.5 416 V464.5" stroke="#cdcdcd" stroke-width="1"/><rect x="1809.5" y="387.5" width="6" height="28" fill="#ff0000" stroke="#d2d2d2" stroke-width="1"/></g>
<path d="M24.9 230.58 L32.9 208.4 L41.9 190.21 L50.9 174.06 L58.9 153.88 L67.9 141.77 L76.9 133.7 L84.9 129.66 L93.9 117.55 L102.9 117.55 L110.9 117.55 L119.9 125.63 L128.9 133.7 L136.9 141.77 L145.9 149.85 L154.9 153.88 L162.9 157.92 L171.9 161.95 L180.9 165.99 L188.9 165.99 L197.9 161.95 L206.9 157.92 L215.9 153.88 L223.9 153.88 L232.9 153.88 L241.9 153.88 L249.9 157.92 L258.9 170.03 L267.9 186.17 L275.9 190.21 L284.9 194.25 L293.9 198.28 L301.9 198.28 L310.9 202.32 L319.9 206.36 L327.9 210.39 L336.9 210.39 L345.9 222.5 L353.9 248.6 L362.9 279.02 L371.9 289.5 L379.9 303.24 L388.9 319.38 L397.9 331.49 L406.9 343.6 L414.9 359.75 L423.9 370.5 L432.9 378.5 L440.9 392.04 L449.9 404.15 L458.9 420.3 L466.9 432.41 L475.9 444.52 L484.9 452.59 L492.9 456.62 L501.9 456.62 L510.9 452.59 L518.9 444.52 L527.9 440.48 L536.9 436.44 L544.9 420.3 L553.9 400.11 L562.9 379.93 L570.9 359.75 L579.9 355.71 L588.9 351.67 L596.9 355.71 L605.9 363.78 L614.9 379.93 L623.9 400.11 L631.9 408.19 L640.9 416.26 L649.9 416.26 L657.9 416.26 L666.9 412.22 L675.9 412.22 L683.9 416.26 L692.9 420.3 L701.9 424.33 L709.9 424.33 L718.9 428.37 L727.9 440.48 L735.9 452.59 L744.9 476.81 L753.9 484.88 L761.9 492.95 L770.9 501.03 L779.9 509.1 L787.9 521.21 L796.9 533.32 L805.9 537.36 L814.9 541.39 L822.9 545.43 L831.9 545.43 L840.9 549.47 L848.9 549.47 L857.9 565.61 L866.9 585.8 L874.9 610.01 L883.9 618.09 L892.9 622.12 L900.9 618.09 L909.9 610.01 L918.9 601.94 L926.9 597.91 L935.9 597.91 L944.9 597.91 L952.9 601.94 L961.9 605.98 L970.9 610.01 L978.9 614.05 L987.9 614.05 L996.9 614.05 L1005.9 614.05 L1013.9 614.05 L1022.9 622.12 L1031.9 622.12 L1039.9 622.12 L1048.9 622.12 L1057.9 622.12 L1065.9 622.12 L1074.9 622.12 L1083.9 630.2 L1091.9 638.27 L1100.9 638.27 L1109.9 638.27 L1117.9 646.34 L1126.9 650.38 L1135.9 654.42 L1143.9 654.42 L1152.9 654.42 L1161.9 658.45 L1169.9 666.53 L1178.9 678.64 L1187.9 698.82 L1196.9 710.93 L1204.9 714.97 L1213.9 714.97 L1222.9 706.89 L1230.9 698.82 L1239.9 686.71 L1248.9 674.6 L1256.9 658.45 L1265.9 658.45 L1274.9 662.49 L1282.9 670.56 L1291.9 666.53 L1300.9 658.45 L1308.9 646.34 L1317.9 646.34 L1326.9 646.34 L1334.9 646.34 L1343.9 654.42 L1352.9 662.49 L1360.9 674.6 L1369.9 678.64 L1378.9 674.6 L1386.9 670.56 L1395.9 662.49 L1404.9 658.45 L1413.9 654.42 L1421.9 646.34 L1430.9 634.23 L1439.9 622.12 L1447.9 605.98 L1456.9 592 L1465.9 576.5 L1473.9 557.54 L1482.9 545.43 L1491.9 541.39 L1499.9 533.32 L1508.9 529.28 L1517.9 525.25 L1525.9 525.25 L1534.9 517.17 L1543.9 501.03 L1551.9 484.88 L1560.9 471.2 L1569.9 452.59 L1577.9 448.55 L1586.9 430.5 L1595.9 410.7 L1604.9 392.04 L1612.9 371.86 L1621.9 353.5 L1630.9 335.53 L1638.9 315.34 L1647.9 292.6 L1656.9 281.2 L1664.9 285.8 L1673.9 291.13 L1682.9 295.16 L1690.9 303.24 L1699.9 311.31 L1708.9 319.38 L1716.9 323.42 L1725.9 323.42 L1734.9 323.42 L1742.9 323.42 L1751.9 319.38 L1760.9 315.34 L1768.9 315.34 L1777.9 319.38 L1786.9 323.42 L1795.9 323.42 L1803.9 327.45" fill="none" stroke="#ff69b4" stroke-width="1.2" stroke-opacity=".88" stroke-linejoin="round"/>
<path d="M24.9 505.06 L32.9 509.1 L41.9 505.06 L50.9 501.03 L58.9 496.99 L67.9 484.88 L76.9 468.73 L84.9 444.52 L93.9 432.41 L102.9 414 L110.9 392.04 L119.9 377.2 L128.9 363.78 L136.9 351.67 L145.9 343.6 L154.9 339.56 L162.9 343.6 L171.9 339.56 L180.9 335.53 L188.9 335.53 L197.9 335.53 L206.9 343.6 L215.9 351.67 L223.9 359.75 L232.9 371.86 L241.9 383.97 L249.9 392.04 L258.9 400.11 L267.9 400.11 L275.9 416.26 L284.9 432.41 L293.9 448.55 L301.9 464.7 L310.9 484.88 L319.9 506.3 L327.9 531 L336.9 552 L345.9 569.65 L353.9 565.61 L362.9 553.5 L371.9 553.5 L379.9 561.58 L388.9 565.61 L397.9 573.69 L406.9 581.76 L414.9 593.87 L423.9 605.98 L432.9 618.09 L440.9 632.5 L449.9 650.38 L458.9 653.2 L466.9 654.42 L475.9 654.42 L484.9 654.42 L492.9 650.38 L501.9 650.38 L510.9 654.42 L518.9 654.42 L527.9 650.38 L536.9 646.34 L544.9 646.34 L553.9 650.38 L562.9 654.42 L570.9 658.45 L579.9 650.38 L588.9 642.31 L596.9 634.23 L605.9 626.16 L614.9 614.05 L623.9 593.87 L631.9 593.87 L640.9 597.91 L649.9 610.01 L657.9 624.6 L666.9 642.31 L675.9 662.49 L683.9 670.56 L692.9 674.6 L701.9 674.6 L709.9 678.64 L718.9 682.67 L727.9 686.71 L735.9 686.71 L744.9 678.64 L753.9 686.71 L761.9 696 L770.9 706.89 L779.9 723.04 L787.9 727.08 L796.9 727.08 L805.9 735.15 L814.9 747.26 L822.9 759.37 L831.9 775.51 L840.9 791.66 L848.9 811.84 L857.9 811.84 L866.9 803.77 L874.9 787.62 L883.9 783.59 L892.9 779.55 L900.9 775.51 L909.9 779.55 L918.9 779.55 L926.9 779.55 L935.9 775.51 L944.9 779.55 L952.9 779.55 L961.9 783.59 L970.9 787.62 L978.9 791.66 L987.9 795.7 L996.9 791.66 L1005.9 791.66 L1013.9 783.59 L1022.9 771.48 L1031.9 771.48 L1039.9 775.51 L1048.9 783.59 L1057.9 791.66 L1065.9 803.77 L1074.9 811.84 L1083.9 823.95 L1091.9 827.99 L1100.9 844.14 L1109.9 860.28 L1117.9 872.39 L1126.9 880.47 L1135.9 880.47 L1143.9 884.5 L1152.9 880.47 L1161.9 880.47 L1169.9 876.43 L1178.9 872.39 L1187.9 860.28 L1196.9 856.25 L1204.9 856.25 L1213.9 856.25 L1222.9 856.25 L1230.9 860.28 L1239.9 860.28 L1248.9 864.32 L1256.9 864.32 L1265.9 856.25 L1274.9 848.17 L1282.9 840.1 L1291.9 840.1 L1300.9 840.1 L1308.9 840.1 L1317.9 836.06 L1326.9 836.06 L1334.9 832.03 L1343.9 832.03 L1352.9 832.03 L1360.9 819.92 L1369.9 819.92 L1378.9 815.88 L1386.9 815.88 L1395.9 815.88 L1404.9 811.84 L1413.9 811.84 L1421.9 811.84 L1430.9 807.81 L1439.9 807.81 L1447.9 807.81 L1456.9 803.77 L1465.9 807.81 L1473.9 807.81 L1482.9 799.73 L1491.9 791.66 L1499.9 787.62 L1508.9 779.55 L1517.9 767.44 L1525.9 747.26 L1534.9 739.19 L1543.9 731.11 L1551.9 727.08 L1560.9 719 L1569.9 714.97 L1577.9 694.78 L1586.9 686.71 L1595.9 678.64 L1604.9 670.56 L1612.9 662.49 L1621.9 654.42 L1630.9 650.38 L1638.9 642.31 L1647.9 634.23 L1656.9 618.09 L1664.9 584.5 L1673.9 565.61 L1682.9 549.47 L1690.9 533.32 L1699.9 521.21 L1708.9 513.14 L1716.9 509.1 L1725.9 509.1 L1734.9 517.17 L1742.9 529.28 L1751.9 545.43 L1760.9 565.61 L1768.9 569.65 L1777.9 573.69 L1786.9 573.69 L1795.9 569.65 L1803.9 561.58" fill="none" stroke="#1e90ff" stroke-width="1.2" stroke-opacity=".88" stroke-linejoin="round"/>
<g fill="#ff69b4"><circle cx="162.9" cy="251" r="2"/><circle cx="171.9" cy="251" r="2"/><circle cx="180.9" cy="251" r="2"/><circle cx="188.9" cy="251" r="2"/><circle cx="197.9" cy="251" r="2"/><circle cx="206.9" cy="251" r="2"/><circle cx="215.9" cy="255" r="2"/><circle cx="223.9" cy="259" r="2"/><circle cx="232.9" cy="263" r="2"/><circle cx="241.9" cy="267" r="2"/><circle cx="249.9" cy="275" r="2"/><circle cx="258.9" cy="283" r="2"/><circle cx="267.9" cy="291" r="2"/><circle cx="275.9" cy="303" r="2"/><circle cx="284.9" cy="311" r="2"/><circle cx="293.9" cy="323" r="2"/><circle cx="301.9" cy="336" r="2"/><circle cx="310.9" cy="348" r="2"/><circle cx="319.9" cy="360" r="2"/><circle cx="327.9" cy="372" r="2"/><circle cx="336.9" cy="384" r="2"/><circle cx="345.9" cy="396" r="2"/><circle cx="353.9" cy="408" r="2"/><circle cx="362.9" cy="416" r="2"/><circle cx="371.9" cy="424" r="2"/><circle cx="379.9" cy="432" r="2"/><circle cx="388.9" cy="440" r="2"/><circle cx="397.9" cy="453" r="2"/><circle cx="406.9" cy="465" r="2"/><circle cx="414.9" cy="477" r="2"/><circle cx="423.9" cy="489" r="2"/><circle cx="432.9" cy="501" r="2"/><circle cx="440.9" cy="513" r="2"/><circle cx="449.9" cy="525" r="2"/><circle cx="458.9" cy="537" r="2"/><circle cx="466.9" cy="545" r="2"/><circle cx="475.9" cy="549" r="2"/><circle cx="484.9" cy="554" r="2"/><circle cx="492.9" cy="554" r="2"/><circle cx="501.9" cy="554" r="2"/><circle cx="510.9" cy="554" r="2"/><circle cx="631.9" cy="501" r="2"/><circle cx="640.9" cy="509" r="2"/><circle cx="649.9" cy="513" r="2"/><circle cx="657.9" cy="521" r="2"/><circle cx="666.9" cy="529" r="2"/><circle cx="675.9" cy="537" r="2"/><circle cx="683.9" cy="541" r="2"/><circle cx="692.9" cy="545" r="2"/><circle cx="701.9" cy="549" r="2"/><circle cx="709.9" cy="554" r="2"/><circle cx="718.9" cy="558" r="2"/><circle cx="727.9" cy="562" r="2"/><circle cx="735.9" cy="570" r="2"/><circle cx="744.9" cy="578" r="2"/><circle cx="753.9" cy="586" r="2"/><circle cx="761.9" cy="594" r="2"/><circle cx="770.9" cy="606" r="2"/><circle cx="779.9" cy="614" r="2"/><circle cx="787.9" cy="622" r="2"/><circle cx="796.9" cy="630" r="2"/><circle cx="805.9" cy="634" r="2"/><circle cx="814.9" cy="642" r="2"/><circle cx="822.9" cy="650" r="2"/><circle cx="831.9" cy="662" r="2"/><circle cx="840.9" cy="671" r="2"/><circle cx="848.9" cy="683" r="2"/><circle cx="857.9" cy="691" r="2"/><circle cx="866.9" cy="695" r="2"/><circle cx="874.9" cy="699" r="2"/><circle cx="883.9" cy="699" r="2"/><circle cx="892.9" cy="699" r="2"/><circle cx="900.9" cy="699" r="2"/><circle cx="944.9" cy="691" r="2"/><circle cx="952.9" cy="691" r="2"/><circle cx="961.9" cy="695" r="2"/><circle cx="970.9" cy="699" r="2"/><circle cx="978.9" cy="703" r="2"/><circle cx="987.9" cy="703" r="2"/><circle cx="996.9" cy="703" r="2"/><circle cx="1005.9" cy="703" r="2"/><circle cx="1048.9" cy="703" r="2"/><circle cx="1057.9" cy="707" r="2"/><circle cx="1065.9" cy="711" r="2"/><circle cx="1074.9" cy="719" r="2"/><circle cx="1083.9" cy="727" r="2"/><circle cx="1091.9" cy="735" r="2"/><circle cx="1100.9" cy="743" r="2"/><circle cx="1109.9" cy="751" r="2"/><circle cx="1117.9" cy="759" r="2"/><circle cx="1126.9" cy="763" r="2"/><circle cx="1135.9" cy="767" r="2"/><circle cx="1143.9" cy="767" r="2"/><circle cx="1152.9" cy="767" r="2"/><circle cx="1161.9" cy="767" r="2"/><circle cx="1169.9" cy="771" r="2"/><circle cx="1178.9" cy="776" r="2"/><circle cx="1187.9" cy="780" r="2"/><circle cx="1196.9" cy="784" r="2"/><circle cx="1204.9" cy="784" r="2"/><circle cx="1213.9" cy="784" r="2"/><circle cx="1222.9" cy="784" r="2"/><circle cx="1343.9" cy="743" r="2"/><circle cx="1352.9" cy="747" r="2"/><circle cx="1360.9" cy="747" r="2"/><circle cx="1369.9" cy="747" r="2"/><circle cx="1378.9" cy="747" r="2"/><circle cx="1734.9" cy="420" r="2"/><circle cx="1742.9" cy="428" r="2"/><circle cx="1751.9" cy="432" r="2"/><circle cx="1760.9" cy="440" r="2"/><circle cx="1768.9" cy="445" r="2"/><circle cx="1777.9" cy="449" r="2"/><circle cx="1786.9" cy="449" r="2"/><circle cx="1795.9" cy="449" r="2"/></g>
<g fill="#1e90ff"><circle cx="24.9" cy="368" r="2"/><circle cx="32.9" cy="360" r="2"/><circle cx="41.9" cy="348" r="2"/><circle cx="50.9" cy="336" r="2"/><circle cx="58.9" cy="323" r="2"/><circle cx="67.9" cy="311" r="2"/><circle cx="76.9" cy="299" r="2"/><circle cx="84.9" cy="287" r="2"/><circle cx="93.9" cy="275" r="2"/><circle cx="102.9" cy="263" r="2"/><circle cx="110.9" cy="255" r="2"/><circle cx="119.9" cy="251" r="2"/><circle cx="128.9" cy="247" r="2"/><circle cx="136.9" cy="247" r="2"/><circle cx="145.9" cy="247" r="2"/><circle cx="154.9" cy="247" r="2"/><circle cx="518.9" cy="549" r="2"/><circle cx="527.9" cy="545" r="2"/><circle cx="536.9" cy="541" r="2"/><circle cx="544.9" cy="533" r="2"/><circle cx="553.9" cy="525" r="2"/><circle cx="562.9" cy="517" r="2"/><circle cx="570.9" cy="509" r="2"/><circle cx="579.9" cy="501" r="2"/><circle cx="588.9" cy="497" r="2"/><circle cx="596.9" cy="497" r="2"/><circle cx="605.9" cy="497" r="2"/><circle cx="614.9" cy="497" r="2"/><circle cx="623.9" cy="497" r="2"/><circle cx="909.9" cy="695" r="2"/><circle cx="918.9" cy="691" r="2"/><circle cx="926.9" cy="687" r="2"/><circle cx="935.9" cy="687" r="2"/><circle cx="1013.9" cy="699" r="2"/><circle cx="1022.9" cy="699" r="2"/><circle cx="1031.9" cy="699" r="2"/><circle cx="1039.9" cy="699" r="2"/><circle cx="1230.9" cy="780" r="2"/><circle cx="1239.9" cy="776" r="2"/><circle cx="1248.9" cy="767" r="2"/><circle cx="1256.9" cy="763" r="2"/><circle cx="1265.9" cy="759" r="2"/><circle cx="1274.9" cy="755" r="2"/><circle cx="1282.9" cy="755" r="2"/><circle cx="1291.9" cy="751" r="2"/><circle cx="1300.9" cy="747" r="2"/><circle cx="1308.9" cy="743" r="2"/><circle cx="1317.9" cy="739" r="2"/><circle cx="1326.9" cy="739" r="2"/><circle cx="1334.9" cy="739" r="2"/><circle cx="1386.9" cy="743" r="2"/><circle cx="1395.9" cy="739" r="2"/><circle cx="1404.9" cy="735" r="2"/><circle cx="1413.9" cy="735" r="2"/><circle cx="1421.9" cy="727" r="2"/><circle cx="1430.9" cy="723" r="2"/><circle cx="1439.9" cy="715" r="2"/><circle cx="1447.9" cy="707" r="2"/><circle cx="1456.9" cy="699" r="2"/><circle cx="1465.9" cy="691" r="2"/><circle cx="1473.9" cy="679" r="2"/><circle cx="1482.9" cy="675" r="2"/><circle cx="1491.9" cy="667" r="2"/><circle cx="1499.9" cy="662" r="2"/><circle cx="1508.9" cy="654" r="2"/><circle cx="1517.9" cy="646" r="2"/><circle cx="1525.9" cy="638" r="2"/><circle cx="1534.9" cy="626" r="2"/><circle cx="1543.9" cy="618" r="2"/><circle cx="1551.9" cy="606" r="2"/><circle cx="1560.9" cy="594" r="2"/><circle cx="1569.9" cy="586" r="2"/><circle cx="1577.9" cy="574" r="2"/><circle cx="1586.9" cy="558" r="2"/><circle cx="1595.9" cy="545" r="2"/><circle cx="1604.9" cy="533" r="2"/><circle cx="1612.9" cy="521" r="2"/><circle cx="1621.9" cy="505" r="2"/><circle cx="1630.9" cy="493" r="2"/><circle cx="1638.9" cy="477" r="2"/><circle cx="1647.9" cy="465" r="2"/><circle cx="1656.9" cy="449" r="2"/><circle cx="1664.9" cy="436" r="2"/><circle cx="1673.9" cy="428" r="2"/><circle cx="1682.9" cy="420" r="2"/><circle cx="1690.9" cy="416" r="2"/><circle cx="1699.9" cy="416" r="2"/><circle cx="1708.9" cy="416" r="2"/><circle cx="1716.9" cy="416" r="2"/><circle cx="1725.9" cy="416" r="2"/><circle cx="1803.9" cy="445" r="2"/></g>
<path d="M102.55 92.04 L108.25 81.74 L102.55 84.84 L96.85 81.74 Z" fill="#ff69b4"/><path d="M101.85 88.84 L99.45 84.44 L101.85 85.84 Z" fill="#212121" fill-opacity=".8"/>
<text transform="translate(102.45 72.84) scale(1.005 1.07)" font-size="15" fill="#ff69b4" text-anchor="middle">BollRev</text>
<path d="M458.49 708.48 L452.79 718.78 L458.49 715.68 L464.19 718.78 Z" fill="#1e90ff"/><path d="M459.19 711.68 L461.59 716.08 L459.19 714.68 Z" fill="#212121" fill-opacity=".8"/>
<text transform="translate(458.39 736.58) scale(1.005 1.07)" font-size="15" fill="#1e90ff" text-anchor="middle">BollRev</text>
<path d="M788.38 773.07 L782.68 783.37 L788.38 780.27 L794.08 783.37 Z" fill="#1e90ff"/><path d="M789.08 776.27 L791.48 780.67 L789.08 779.27 Z" fill="#212121" fill-opacity=".8"/>
<text transform="translate(788.28 801.17) scale(1.005 1.07)" font-size="15" fill="#1e90ff" text-anchor="middle">BollRev</text>
<path d="M857.83 833.62 L852.13 843.92 L857.83 840.82 L863.53 843.92 Z" fill="#1e90ff"/><path d="M858.53 836.82 L860.93 841.22 L858.53 839.82 Z" fill="#212121" fill-opacity=".8"/>
<text transform="translate(857.73 861.72) scale(1.005 1.07)" font-size="15" fill="#1e90ff" text-anchor="middle">BollRev</text>
<path d="M1022.78 604.69 L1028.48 594.39 L1022.78 597.49 L1017.08 594.39 Z" fill="#ff69b4"/><path d="M1022.08 601.49 L1019.68 597.09 L1022.08 598.49 Z" fill="#212121" fill-opacity=".8"/>
<text transform="translate(1022.68 585.49) scale(1.005 1.07)" font-size="15" fill="#ff69b4" text-anchor="middle">BollRev</text>
<path d="M1118.28 902.24 L1112.58 912.54 L1118.28 909.44 L1123.98 912.54 Z" fill="#1e90ff"/><path d="M1118.98 905.44 L1121.38 909.84 L1118.98 908.44 Z" fill="#212121" fill-opacity=".8"/>
<text transform="translate(1118.18 930.34) scale(1.005 1.07)" font-size="15" fill="#1e90ff" text-anchor="middle">BollRev</text>
<path d="M1196.41 890.13 L1190.71 900.43 L1196.41 897.33 L1202.11 900.43 Z" fill="#1e90ff"/><path d="M1197.11 893.33 L1199.51 897.73 L1197.11 896.33 Z" fill="#212121" fill-opacity=".8"/>
<text transform="translate(1196.31 918.23) scale(1.005 1.07)" font-size="15" fill="#1e90ff" text-anchor="middle">BollRev</text>
<path d="M1404.76 636.98 L1410.46 626.68 L1404.76 629.78 L1399.06 626.68 Z" fill="#ff69b4"/><path d="M1404.06 633.78 L1401.66 629.38 L1404.06 630.78 Z" fill="#212121" fill-opacity=".8"/>
<text transform="translate(1404.66 617.78) scale(1.005 1.07)" font-size="15" fill="#ff69b4" text-anchor="middle">BollRev</text>
<path d="M1665.2 249.47 L1670.9 239.17 L1665.2 242.27 L1659.5 239.17 Z" fill="#ff69b4"/><path d="M1664.5 246.27 L1662.1 241.87 L1664.5 243.27 Z" fill="#212121" fill-opacity=".8"/>
<text transform="translate(1665.1 230.27) scale(1.005 1.07)" font-size="15" fill="#ff69b4" text-anchor="middle">BollRev</text>
</g>
<path d="M1852.5 32 V964.5 M8 964.5 H1853" stroke="#d6d6d6" stroke-width="1" fill="none"/>
<path d="M1853 84.5 H1858 M1853 165.5 H1858 M1853 246.5 H1858 M1853 326.5 H1858 M1853 407.5 H1858 M1853 488.5 H1858 M1853 569.5 H1858 M1853 650.5 H1858 M1853 730.5 H1858 M1853 811.5 H1858 M1853 892.5 H1858 M41.5 965 V970 M102.5 965 V970 M162.5 965 V970 M223.5 965 V970 M284.5 965 V970 M345.5 965 V970 M406.5 965 V970 M466.5 965 V970 M527.5 965 V970 M588.5 965 V970 M649.5 965 V970 M709.5 965 V970 M770.5 965 V970 M831.5 965 V970 M892.5 965 V970 M952.5 965 V970 M1013.5 965 V970 M1074.5 965 V970 M1135.5 965 V970 M1196.5 965 V970 M1256.5 965 V970 M1317.5 965 V970 M1378.5 965 V970 M1439.5 965 V970 M1499.5 965 V970 M1560.5 965 V970 M1621.5 965 V970 M1682.5 965 V970 M1742.5 965 V970 M1821.5 965 V970" stroke="#d6d6d6" stroke-width="1" fill="none"/>
<g font-size="10.67" fill="#cfcfcf"><text x="1861" y="89">21830.00</text><text x="1861" y="170">21825.00</text><text x="1861" y="251">21820.00</text><text x="1861" y="331">21815.00</text><text x="1861" y="412">21810.00</text><text x="1861" y="493">21805.00</text><text x="1861" y="574">21800.00</text><text x="1861" y="655">21795.00</text><text x="1861" y="735">21790.00</text><text x="1861" y="816">21785.00</text><text x="1861" y="897">21780.00</text><text x="42.1" y="986" text-anchor="middle">15:54</text><text x="103.1" y="986" text-anchor="middle">15:54</text><text x="163.1" y="986" text-anchor="middle">15:54</text><text x="224.1" y="986" text-anchor="middle">15:55</text><text x="285.1" y="986" text-anchor="middle">15:55</text><text x="346.1" y="986" text-anchor="middle">15:55</text><text x="407.1" y="986" text-anchor="middle">15:56</text><text x="467.1" y="986" text-anchor="middle">15:56</text><text x="528.1" y="986" text-anchor="middle">15:57</text><text x="589.1" y="986" text-anchor="middle">15:57</text><text x="650.1" y="986" text-anchor="middle">15:58</text><text x="710.1" y="986" text-anchor="middle">15:59</text><text x="771.1" y="986" text-anchor="middle">15:59</text><text x="832.1" y="986" text-anchor="middle">15:59</text><text x="893.1" y="986" text-anchor="middle">16:00</text><text x="953.1" y="986" text-anchor="middle">16:00</text><text x="1014.1" y="986" text-anchor="middle">16:00</text><text x="1075.1" y="986" text-anchor="middle">16:00</text><text x="1136.1" y="986" text-anchor="middle">16:02</text><text x="1197.1" y="986" text-anchor="middle">16:04</text><text x="1257.1" y="986" text-anchor="middle">16:04</text><text x="1318.1" y="986" text-anchor="middle">16:05</text><text x="1379.1" y="986" text-anchor="middle">16:08</text><text x="1440.1" y="986" text-anchor="middle">16:11</text><text x="1500.1" y="986" text-anchor="middle">16:15</text><text x="1561.1" y="986" text-anchor="middle">16:17</text><text x="1622.1" y="986" text-anchor="middle">16:26</text><text x="1683.1" y="986" text-anchor="middle">16:28</text><text x="1743.1" y="986" text-anchor="middle">16:52</text><text x="1822" y="986" text-anchor="middle" font-weight="bold">Jun 8</text></g>
<path d="M1845.6 326.45 L1852 318.5 H1911 V334.4 H1852 Z" fill="#ff69b4" stroke="#d6d6d6" stroke-width=".9" stroke-linejoin="miter"/><text x="1861" y="330.75" font-size="10.67" fill="#000">21815.00</text>
<path d="M1845.6 561.45 L1852 553.5 H1911 V569.4 H1852 Z" fill="#1e90ff" stroke="#d6d6d6" stroke-width=".9" stroke-linejoin="miter"/><text x="1861" y="565.75" font-size="10.67" fill="#fff">21800.50</text>
<path d="M1845.6 444.45 L1852 436.5 H1911 V452.4 H1852 Z" fill="#1e90ff" stroke="#d6d6d6" stroke-width=".9" stroke-linejoin="miter"/><text x="1861" y="448.75" font-size="10.67" fill="#fff">21807.75</text>
<path d="M1845.6 415.45 L1852 407.5 H1911 V423.4 H1852 Z" fill="#000" stroke="#d6d6d6" stroke-width=".9" stroke-linejoin="miter"/><text x="1861" y="419.75" font-size="10.67" fill="#fff">21809.50</text>
<text x="13" y="47.2" font-size="10.67" fill="#dcdcdc" textLength="315" lengthAdjust="spacingAndGlyphs">Bollinger Reversal Pro by ninZa.co (NQ JUN25 (KingRenko$ 12/4))</text>
<text x="13" y="955" font-size="10.67" fill="#dcdcdc">© 2025 NinjaTrader, LLC</text>
<rect x="1022.5" y="208.5" width="136" height="147" fill="#202020" stroke="#3d3d42" stroke-width="1"/>
<g font-size="10.67"><text x="1026" y="222.8" fill="#d0d0d0">D:</text><text x="1092" y="222.8" fill="#d0d0d0">6/6/2025</text><text x="1026" y="236.8" fill="#d0d0d0">T:</text><text x="1092" y="236.8" fill="#d0d0d0">16:00:16.941</text><text x="1026" y="250.8" fill="#d0d0d0">O:</text><text x="1092" y="250.8" fill="#d0d0d0">21795.25</text><text x="1026" y="264.8" fill="#d0d0d0">H:</text><text x="1092" y="264.8" fill="#d0d0d0">21796.00</text><text x="1026" y="278.8" fill="#d0d0d0">L:</text><text x="1092" y="278.8" fill="#d0d0d0">21794.50</text><text x="1026" y="292.8" fill="#d0d0d0">C:</text><text x="1092" y="292.8" fill="#d0d0d0">21796.00</text><text x="1026" y="306.8" fill="#d0d0d0">V:</text><text x="1092" y="306.8" fill="#d0d0d0">51</text><text x="1026" y="320.8" fill="#ff69b4">Upper Band:</text><text x="1092" y="320.8" fill="#ff69b4">21797.25</text><text x="1026" y="334.8" fill="#1e90ff">Middle Band:</text><text x="1092" y="334.8" fill="#1e90ff">21792.00</text><text x="1026" y="348.8" fill="#1e90ff">Lower Band:</text><text x="1092" y="348.8" fill="#1e90ff">21786.75</text></g>
<path d="M1821 53 H1838 M1828.5 45.5 L1821 53 L1828.5 60.5" stroke="#cfcfcf" stroke-width="1.8" fill="none"/>
</svg>
</body></html>
